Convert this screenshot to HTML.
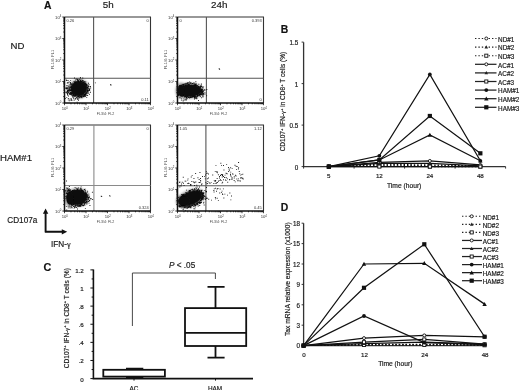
<!DOCTYPE html><html><head><meta charset="utf-8"><style>html,body{margin:0;padding:0;background:#fff;width:520px;height:390px;overflow:hidden}svg{display:block;filter:grayscale(1)}text{stroke:#1a1a1a;stroke-width:.18px}text.t{stroke:none}</style></head><body><svg width="520" height="390" viewBox="0 0 520 390"><defs><filter id="bl1" x="-20%" y="-20%" width="140%" height="140%"><feGaussianBlur stdDeviation="0.5"/></filter><filter id="bl2" x="-30%" y="-30%" width="160%" height="160%"><feGaussianBlur stdDeviation="1.3"/></filter></defs><g><rect width="520" height="390" fill="#fff"/><text x="44" y="8.6" font-size="10.3" font-weight="bold" fill="#111" font-family="Liberation Sans, sans-serif">A</text><text x="108.3" y="8.4" font-size="9.8" text-anchor="middle" fill="#222" font-family="Liberation Sans, sans-serif">5h</text><text x="219.3" y="8.4" font-size="9.8" text-anchor="middle" fill="#222" font-family="Liberation Sans, sans-serif">24h</text><text x="10.6" y="49.3" font-size="9.6" fill="#222" font-family="Liberation Sans, sans-serif">ND</text><text x="0" y="161.3" font-size="9.6" fill="#222" font-family="Liberation Sans, sans-serif">HAM#1</text><text x="7.3" y="223" font-size="8.2" fill="#222" font-family="Liberation Sans, sans-serif">CD107a</text><text x="51" y="247" font-size="8.2" fill="#222" font-family="Liberation Sans, sans-serif">IFN-<tspan font-family="Liberation Serif, serif">γ</tspan></text><path d="M45.6,232V213M44.8,231.8H63" stroke="#111" stroke-width="1.9" fill="none"/><path d="M45.6,208.4L42.9,213.8H48.3Z M67.2,231.8L61.8,229.2V234.4Z" fill="#111"/><path d="M64.5,17H150.5V103" fill="none" stroke="#333" stroke-width="1.1"/><line x1="93.6" y1="17" x2="93.6" y2="103" stroke="#555" stroke-width="1.1"/><line x1="64.5" y1="78.3" x2="150.5" y2="78.3" stroke="#555" stroke-width="1.1"/><path d="M71.4,84.7h.9v.9h-.9zM78.3,80.7h.9v.9h-.9zM78.1,99.8h.9v.9h-.9zM90.0,86.1h.9v.9h-.9zM79.4,81.3h.9v.9h-.9zM78.3,96.1h.9v.9h-.9zM80.9,96.7h.9v.9h-.9zM71.3,90.5h.9v.9h-.9zM88.6,85.9h.9v.9h-.9zM71.6,85.0h.9v.9h-.9zM85.3,94.0h.9v.9h-.9zM86.7,88.6h.9v.9h-.9zM70.5,90.2h.9v.9h-.9zM84.9,83.2h.9v.9h-.9zM70.0,90.3h.9v.9h-.9zM80.9,95.4h.9v.9h-.9zM84.0,95.3h.9v.9h-.9zM83.9,95.9h.9v.9h-.9zM87.6,86.6h.9v.9h-.9zM85.0,93.4h.9v.9h-.9zM84.1,81.2h.9v.9h-.9zM82.6,80.0h.9v.9h-.9zM76.8,81.9h.9v.9h-.9zM71.1,88.9h.9v.9h-.9zM83.6,81.2h.9v.9h-.9zM71.5,86.3h.9v.9h-.9zM74.5,94.6h.9v.9h-.9zM85.7,93.6h.9v.9h-.9zM73.0,97.6h.9v.9h-.9zM70.2,86.3h.9v.9h-.9zM71.9,84.2h.9v.9h-.9zM87.2,94.9h.9v.9h-.9zM81.6,96.3h.9v.9h-.9zM87.4,91.3h.9v.9h-.9zM83.0,96.0h.9v.9h-.9zM78.3,97.4h.9v.9h-.9zM73.0,83.5h.9v.9h-.9zM82.4,80.1h.9v.9h-.9zM84.7,82.5h.9v.9h-.9zM85.2,93.0h.9v.9h-.9zM85.6,83.4h.9v.9h-.9zM84.8,95.2h.9v.9h-.9zM69.9,82.7h.9v.9h-.9zM74.3,95.9h.9v.9h-.9zM81.3,95.3h.9v.9h-.9zM83.3,82.1h.9v.9h-.9zM71.2,88.6h.9v.9h-.9zM77.3,81.9h.9v.9h-.9zM75.1,95.0h.9v.9h-.9zM87.3,92.9h.9v.9h-.9zM72.8,83.6h.9v.9h-.9zM70.0,89.8h.9v.9h-.9zM75.4,98.0h.9v.9h-.9zM74.1,83.0h.9v.9h-.9zM70.0,90.1h.9v.9h-.9zM84.3,83.3h.9v.9h-.9zM85.0,84.2h.9v.9h-.9zM77.0,80.4h.9v.9h-.9zM85.9,93.0h.9v.9h-.9zM80.3,81.7h.9v.9h-.9zM71.3,84.5h.9v.9h-.9zM65.8,91.2h.9v.9h-.9zM82.0,95.3h.9v.9h-.9zM75.4,95.3h.9v.9h-.9zM75.0,98.6h.9v.9h-.9zM70.8,87.3h.9v.9h-.9zM71.5,93.7h.9v.9h-.9zM69.9,90.3h.9v.9h-.9zM85.1,81.4h.9v.9h-.9zM70.9,87.0h.9v.9h-.9zM83.5,81.9h.9v.9h-.9zM84.8,83.7h.9v.9h-.9zM72.8,93.6h.9v.9h-.9zM86.0,84.5h.9v.9h-.9zM80.0,80.6h.9v.9h-.9zM74.8,80.7h.9v.9h-.9zM87.4,84.9h.9v.9h-.9zM73.9,94.6h.9v.9h-.9zM86.7,88.9h.9v.9h-.9zM85.0,83.0h.9v.9h-.9zM87.3,92.2h.9v.9h-.9zM70.8,92.0h.9v.9h-.9zM73.3,83.9h.9v.9h-.9zM85.8,85.1h.9v.9h-.9zM71.9,84.8h.9v.9h-.9zM83.6,94.1h.9v.9h-.9zM72.1,95.5h.9v.9h-.9zM80.4,81.1h.9v.9h-.9zM88.3,92.7h.9v.9h-.9zM80.1,76.9h.9v.9h-.9zM68.6,90.0h.9v.9h-.9zM86.6,88.8h.9v.9h-.9zM86.6,87.6h.9v.9h-.9zM80.9,95.5h.9v.9h-.9zM71.5,87.7h.9v.9h-.9zM71.6,86.7h.9v.9h-.9zM74.1,83.5h.9v.9h-.9zM77.4,99.2h.9v.9h-.9zM70.9,89.0h.9v.9h-.9zM72.8,83.6h.9v.9h-.9zM84.6,95.9h.9v.9h-.9zM88.7,88.4h.9v.9h-.9zM86.8,84.5h.9v.9h-.9zM89.2,89.0h.9v.9h-.9zM77.5,96.2h.9v.9h-.9zM71.5,84.7h.9v.9h-.9zM76.7,101.8h.9v.9h-.9zM79.4,81.4h.9v.9h-.9zM77.7,80.0h.9v.9h-.9zM84.2,95.9h.9v.9h-.9zM72.0,84.2h.9v.9h-.9zM86.4,91.0h.9v.9h-.9zM71.9,84.6h.9v.9h-.9zM74.9,80.4h.9v.9h-.9zM83.8,82.7h.9v.9h-.9zM86.9,87.8h.9v.9h-.9zM83.3,96.4h.9v.9h-.9zM88.0,82.8h.9v.9h-.9zM81.0,96.8h.9v.9h-.9zM73.4,84.1h.9v.9h-.9zM74.7,94.9h.9v.9h-.9zM72.1,82.7h.9v.9h-.9zM74.8,95.2h.9v.9h-.9zM70.7,89.0h.9v.9h-.9zM81.1,95.9h.9v.9h-.9zM72.3,92.4h.9v.9h-.9zM76.5,78.6h.9v.9h-.9zM78.5,95.8h.9v.9h-.9zM77.8,81.6h.9v.9h-.9zM85.4,92.5h.9v.9h-.9zM86.9,90.4h.9v.9h-.9zM79.9,96.0h.9v.9h-.9zM81.4,80.9h.9v.9h-.9zM84.1,94.8h.9v.9h-.9zM83.5,82.4h.9v.9h-.9zM75.3,82.4h.9v.9h-.9zM74.0,77.5h.9v.9h-.9zM81.0,81.0h.9v.9h-.9zM75.2,95.1h.9v.9h-.9zM68.5,90.3h.9v.9h-.9zM84.4,95.6h.9v.9h-.9zM68.6,89.3h.9v.9h-.9zM83.8,83.0h.9v.9h-.9zM86.3,97.2h.9v.9h-.9zM68.7,81.6h.9v.9h-.9zM87.7,86.2h.9v.9h-.9zM82.3,80.1h.9v.9h-.9zM73.3,95.6h.9v.9h-.9zM84.2,94.7h.9v.9h-.9zM77.0,79.1h.9v.9h-.9zM72.0,93.3h.9v.9h-.9zM73.4,93.7h.9v.9h-.9zM81.9,81.3h.9v.9h-.9zM74.3,94.9h.9v.9h-.9zM75.6,81.8h.9v.9h-.9zM82.3,77.5h.9v.9h-.9zM74.4,94.8h.9v.9h-.9zM77.3,80.1h.9v.9h-.9zM75.4,82.3h.9v.9h-.9zM84.9,83.5h.9v.9h-.9zM90.0,91.8h.9v.9h-.9zM86.1,91.9h.9v.9h-.9zM70.7,87.2h.9v.9h-.9zM77.1,81.4h.9v.9h-.9zM84.5,83.4h.9v.9h-.9zM78.1,81.5h.9v.9h-.9zM72.0,91.8h.9v.9h-.9zM77.4,97.8h.9v.9h-.9zM75.7,82.1h.9v.9h-.9zM88.8,89.4h.9v.9h-.9zM81.5,97.3h.9v.9h-.9zM82.1,95.7h.9v.9h-.9zM88.6,88.0h.9v.9h-.9zM85.6,92.0h.9v.9h-.9zM82.7,81.5h.9v.9h-.9zM85.1,95.8h.9v.9h-.9zM80.2,96.7h.9v.9h-.9zM79.3,97.3h.9v.9h-.9zM71.0,84.3h.9v.9h-.9zM72.3,96.7h.9v.9h-.9zM83.0,82.3h.9v.9h-.9zM85.4,92.6h.9v.9h-.9zM94.9,82.4h.9v.9h-.9zM86.0,85.5h.9v.9h-.9zM68.6,91.1h.9v.9h-.9zM84.5,83.5h.9v.9h-.9zM77.6,96.1h.9v.9h-.9zM86.9,89.7h.9v.9h-.9zM70.8,92.8h.9v.9h-.9zM77.3,79.4h.9v.9h-.9zM77.6,81.2h.9v.9h-.9zM82.0,81.7h.9v.9h-.9zM76.3,81.4h.9v.9h-.9zM84.8,94.2h.9v.9h-.9zM84.8,94.0h.9v.9h-.9zM71.3,86.3h.9v.9h-.9zM85.7,83.8h.9v.9h-.9zM71.3,90.1h.9v.9h-.9zM88.6,83.9h.9v.9h-.9zM79.7,81.6h.9v.9h-.9zM79.8,80.1h.9v.9h-.9zM70.6,83.0h.9v.9h-.9zM72.1,93.9h.9v.9h-.9zM73.7,81.8h.9v.9h-.9zM76.3,97.0h.9v.9h-.9zM83.4,96.0h.9v.9h-.9zM78.0,81.3h.9v.9h-.9zM76.2,82.3h.9v.9h-.9zM86.4,84.7h.9v.9h-.9zM73.2,94.6h.9v.9h-.9zM70.5,89.8h.9v.9h-.9zM87.7,90.8h.9v.9h-.9zM68.4,87.9h.9v.9h-.9zM87.9,88.4h.9v.9h-.9zM71.3,84.3h.9v.9h-.9zM86.8,90.0h.9v.9h-.9zM82.3,95.5h.9v.9h-.9zM83.2,82.4h.9v.9h-.9zM69.9,94.0h.9v.9h-.9zM74.7,81.8h.9v.9h-.9zM80.2,79.6h.9v.9h-.9zM70.2,84.5h.9v.9h-.9zM73.7,83.0h.9v.9h-.9zM72.4,95.6h.9v.9h-.9zM73.2,95.6h.9v.9h-.9zM74.4,95.5h.9v.9h-.9zM77.4,81.6h.9v.9h-.9zM76.2,96.9h.9v.9h-.9zM71.4,99.7h.9v.9h-.9zM78.8,79.0h.9v.9h-.9zM75.5,82.6h.9v.9h-.9zM74.3,94.8h.9v.9h-.9zM67.5,86.4h.9v.9h-.9zM73.1,83.4h.9v.9h-.9zM68.7,86.3h.9v.9h-.9zM84.1,94.6h.9v.9h-.9zM78.8,96.2h.9v.9h-.9zM86.7,86.6h.9v.9h-.9zM72.0,93.2h.9v.9h-.9zM70.1,86.8h.9v.9h-.9zM83.9,82.3h.9v.9h-.9zM80.2,96.6h.9v.9h-.9zM67.0,92.4h.9v.9h-.9zM88.2,90.2h.9v.9h-.9zM77.4,98.0h.9v.9h-.9zM83.4,94.9h.9v.9h-.9zM81.5,79.5h.9v.9h-.9zM69.6,92.8h.9v.9h-.9zM69.4,94.0h.9v.9h-.9zM70.2,88.7h.9v.9h-.9zM77.3,97.7h.9v.9h-.9zM78.1,81.6h.9v.9h-.9zM76.2,81.7h.9v.9h-.9zM72.6,92.9h.9v.9h-.9zM73.8,82.8h.9v.9h-.9zM70.7,83.1h.9v.9h-.9zM72.4,84.6h.9v.9h-.9zM69.7,92.6h.9v.9h-.9zM72.4,84.9h.9v.9h-.9zM85.9,85.1h.9v.9h-.9zM78.1,96.1h.9v.9h-.9zM89.2,90.0h.9v.9h-.9zM78.0,79.7h.9v.9h-.9zM83.2,94.5h.9v.9h-.9zM77.3,96.3h.9v.9h-.9zM73.0,83.9h.9v.9h-.9zM77.8,80.4h.9v.9h-.9zM76.3,95.7h.9v.9h-.9zM71.0,94.5h.9v.9h-.9zM86.0,93.3h.9v.9h-.9zM72.7,84.7h.9v.9h-.9zM85.4,92.7h.9v.9h-.9zM79.3,97.4h.9v.9h-.9zM86.7,87.8h.9v.9h-.9zM85.3,94.4h.9v.9h-.9zM87.5,87.2h.9v.9h-.9zM84.7,93.7h.9v.9h-.9zM79.2,81.4h.9v.9h-.9zM71.8,85.4h.9v.9h-.9zM72.2,94.9h.9v.9h-.9zM86.5,95.1h.9v.9h-.9zM83.9,82.7h.9v.9h-.9zM88.9,88.9h.9v.9h-.9zM70.8,85.9h.9v.9h-.9zM83.1,96.0h.9v.9h-.9zM83.5,82.6h.9v.9h-.9zM77.7,95.7h.9v.9h-.9zM81.3,80.7h.9v.9h-.9zM88.0,85.7h.9v.9h-.9zM73.4,83.5h.9v.9h-.9zM69.5,87.3h.9v.9h-.9zM71.6,85.8h.9v.9h-.9zM71.5,90.1h.9v.9h-.9zM75.8,81.8h.9v.9h-.9zM73.0,94.0h.9v.9h-.9zM86.6,90.2h.9v.9h-.9zM84.3,94.9h.9v.9h-.9zM72.4,92.9h.9v.9h-.9zM85.3,81.4h.9v.9h-.9zM82.1,81.9h.9v.9h-.9zM87.4,86.6h.9v.9h-.9zM81.1,95.6h.9v.9h-.9zM79.8,77.7h.9v.9h-.9zM82.9,95.5h.9v.9h-.9zM86.2,83.7h.9v.9h-.9zM74.9,82.6h.9v.9h-.9zM80.3,81.5h.9v.9h-.9zM71.5,90.0h.9v.9h-.9zM70.9,88.5h.9v.9h-.9zM87.3,90.7h.9v.9h-.9zM77.9,81.7h.9v.9h-.9zM77.3,98.8h.9v.9h-.9zM70.5,93.6h.9v.9h-.9zM78.8,96.3h.9v.9h-.9zM70.4,83.5h.9v.9h-.9zM74.7,95.1h.9v.9h-.9zM73.6,81.0h.9v.9h-.9zM90.2,87.5h.9v.9h-.9zM75.4,82.2h.9v.9h-.9zM75.9,81.3h.9v.9h-.9zM71.3,92.3h.9v.9h-.9zM71.6,93.3h.9v.9h-.9zM78.1,96.1h.9v.9h-.9zM82.5,95.6h.9v.9h-.9zM84.3,94.0h.9v.9h-.9zM71.8,92.3h.9v.9h-.9zM75.5,78.8h.9v.9h-.9zM79.8,96.2h.9v.9h-.9zM71.2,90.5h.9v.9h-.9zM89.0,93.9h.9v.9h-.9zM70.6,92.3h.9v.9h-.9zM87.3,89.7h.9v.9h-.9zM83.2,81.2h.9v.9h-.9zM87.1,86.8h.9v.9h-.9zM74.6,96.2h.9v.9h-.9zM87.4,90.1h.9v.9h-.9zM80.3,80.9h.9v.9h-.9zM69.8,94.1h.9v.9h-.9zM68.7,86.2h.9v.9h-.9zM67.2,91.1h.9v.9h-.9zM68.6,88.3h.9v.9h-.9zM68.4,85.5h.9v.9h-.9zM66.8,84.9h.9v.9h-.9zM69.5,89.9h.9v.9h-.9zM66.2,88.2h.9v.9h-.9zM67.1,93.5h.9v.9h-.9zM69.2,89.4h.9v.9h-.9zM68.8,100.3h.9v.9h-.9zM67.1,88.2h.9v.9h-.9zM69.7,92.5h.9v.9h-.9zM68.7,87.5h.9v.9h-.9zM71.0,98.5h.9v.9h-.9zM68.5,93.4h.9v.9h-.9zM67.2,92.2h.9v.9h-.9zM68.7,88.3h.9v.9h-.9zM66.2,88.3h.9v.9h-.9zM66.4,88.3h.9v.9h-.9zM68.0,95.6h.9v.9h-.9zM71.1,90.1h.9v.9h-.9zM65.3,87.5h.9v.9h-.9zM67.6,80.0h.9v.9h-.9zM68.1,82.4h.9v.9h-.9zM68.0,89.5h.9v.9h-.9zM66.9,89.6h.9v.9h-.9zM66.5,86.9h.9v.9h-.9zM70.8,99.9h.9v.9h-.9zM69.9,93.5h.9v.9h-.9zM66.3,97.2h.9v.9h-.9zM67.4,89.7h.9v.9h-.9zM67.0,90.5h.9v.9h-.9zM66.7,89.6h.9v.9h-.9zM65.5,88.1h.9v.9h-.9zM71.6,89.7h.9v.9h-.9zM67.1,92.7h.9v.9h-.9zM68.8,84.4h.9v.9h-.9zM67.1,94.6h.9v.9h-.9zM68.0,90.6h.9v.9h-.9zM70.3,86.6h.9v.9h-.9zM67.6,87.4h.9v.9h-.9zM70.2,80.2h.9v.9h-.9zM66.3,87.4h.9v.9h-.9zM68.7,93.0h.9v.9h-.9zM70.0,82.1h.9v.9h-.9zM68.9,88.5h.9v.9h-.9zM66.3,92.7h.9v.9h-.9zM65.8,79.6h.9v.9h-.9zM66.8,82.5h.9v.9h-.9zM66.3,91.9h.9v.9h-.9zM68.1,97.9h.9v.9h-.9zM67.1,82.3h.9v.9h-.9zM66.1,85.4h.9v.9h-.9zM65.3,92.2h.9v.9h-.9zM66.3,80.1h.9v.9h-.9zM68.8,89.4h.9v.9h-.9zM68.1,90.5h.9v.9h-.9zM68.6,90.2h.9v.9h-.9zM69.7,92.1h.9v.9h-.9zM68.2,92.0h.9v.9h-.9zM67.0,91.0h.9v.9h-.9zM65.1,98.2h.9v.9h-.9zM110.0,84.3h.9v.9h-.9zM110.6,84.6h.9v.9h-.9z" fill="#111"/><ellipse cx="79.0" cy="88.7" rx="10.399999999999999" ry="9.7" transform="rotate(-15 79.0 88.7)" fill="#0d0d0d" fill-opacity=".35" filter="url(#bl2)"/><ellipse cx="79.0" cy="88.7" rx="8.2" ry="7.5" transform="rotate(-15 79.0 88.7)" fill="#0d0d0d" filter="url(#bl1)"/><path d="M64.5,17V103H150.5" fill="none" stroke="#111" stroke-width="1.5"/><path d="M62.3,103.00h2.2M64.50,103v2.2M63.2,96.53h1.3M70.97,103v1.3M63.2,92.74h1.3M74.76,103v1.3M63.2,90.06h1.3M77.44,103v1.3M63.2,87.97h1.3M79.53,103v1.3M63.2,86.27h1.3M81.23,103v1.3M63.2,84.83h1.3M82.67,103v1.3M63.2,83.58h1.3M83.92,103v1.3M63.2,82.48h1.3M85.02,103v1.3M62.3,81.50h2.2M86.00,103v2.2M63.2,75.03h1.3M92.47,103v1.3M63.2,71.24h1.3M96.26,103v1.3M63.2,68.56h1.3M98.94,103v1.3M63.2,66.47h1.3M101.03,103v1.3M63.2,64.77h1.3M102.73,103v1.3M63.2,63.33h1.3M104.17,103v1.3M63.2,62.08h1.3M105.42,103v1.3M63.2,60.98h1.3M106.52,103v1.3M62.3,60.00h2.2M107.50,103v2.2M63.2,53.53h1.3M113.97,103v1.3M63.2,49.74h1.3M117.76,103v1.3M63.2,47.06h1.3M120.44,103v1.3M63.2,44.97h1.3M122.53,103v1.3M63.2,43.27h1.3M124.23,103v1.3M63.2,41.83h1.3M125.67,103v1.3M63.2,40.58h1.3M126.92,103v1.3M63.2,39.48h1.3M128.02,103v1.3M62.3,38.50h2.2M129.00,103v2.2M63.2,32.03h1.3M135.47,103v1.3M63.2,28.24h1.3M139.26,103v1.3M63.2,25.56h1.3M141.94,103v1.3M63.2,23.47h1.3M144.03,103v1.3M63.2,21.77h1.3M145.73,103v1.3M63.2,20.33h1.3M147.17,103v1.3M63.2,19.08h1.3M148.42,103v1.3M63.2,17.98h1.3M149.52,103v1.3M62.3,17h2.2M150.5,103v2.2" stroke="#111" stroke-width="0.8"/><text class="t" x="61.3" y="104.6" font-size="4.2" text-anchor="end" fill="#333" font-family="Liberation Sans, sans-serif">10<tspan font-size="2.8" dy="-1.6">0</tspan></text><text class="t" x="64.8" y="110.2" font-size="4.2" text-anchor="middle" fill="#333" font-family="Liberation Sans, sans-serif">10<tspan font-size="2.8" dy="-1.6">0</tspan></text><text class="t" x="61.3" y="83.1" font-size="4.2" text-anchor="end" fill="#333" font-family="Liberation Sans, sans-serif">10<tspan font-size="2.8" dy="-1.6">1</tspan></text><text class="t" x="86.3" y="110.2" font-size="4.2" text-anchor="middle" fill="#333" font-family="Liberation Sans, sans-serif">10<tspan font-size="2.8" dy="-1.6">1</tspan></text><text class="t" x="61.3" y="61.6" font-size="4.2" text-anchor="end" fill="#333" font-family="Liberation Sans, sans-serif">10<tspan font-size="2.8" dy="-1.6">2</tspan></text><text class="t" x="107.8" y="110.2" font-size="4.2" text-anchor="middle" fill="#333" font-family="Liberation Sans, sans-serif">10<tspan font-size="2.8" dy="-1.6">2</tspan></text><text class="t" x="61.3" y="40.1" font-size="4.2" text-anchor="end" fill="#333" font-family="Liberation Sans, sans-serif">10<tspan font-size="2.8" dy="-1.6">3</tspan></text><text class="t" x="129.3" y="110.2" font-size="4.2" text-anchor="middle" fill="#333" font-family="Liberation Sans, sans-serif">10<tspan font-size="2.8" dy="-1.6">3</tspan></text><text class="t" x="61.3" y="18.6" font-size="4.2" text-anchor="end" fill="#333" font-family="Liberation Sans, sans-serif">10<tspan font-size="2.8" dy="-1.6">4</tspan></text><text class="t" x="150.8" y="110.2" font-size="4.2" text-anchor="middle" fill="#333" font-family="Liberation Sans, sans-serif">10<tspan font-size="2.8" dy="-1.6">4</tspan></text><text class="t" x="105.5" y="114.8" font-size="3.6" text-anchor="middle" fill="#444" font-family="Liberation Sans, sans-serif">FL3/4: FL2</text><text class="t" transform="translate(53.9,59.5) rotate(-90)" font-size="4" text-anchor="middle" fill="#444" font-family="Liberation Sans, sans-serif">FL1/4: FL1</text><text class="t" x="66.5" y="22" font-size="4" fill="#333" font-family="Liberation Sans, sans-serif">0.26</text><text class="t" x="148.7" y="22" font-size="4" text-anchor="end" fill="#333" font-family="Liberation Sans, sans-serif">0</text><text class="t" x="67.5" y="100.5" font-size="4" fill="#333" font-family="Liberation Sans, sans-serif">99.5</text><text class="t" x="148.7" y="100.5" font-size="4" text-anchor="end" fill="#333" font-family="Liberation Sans, sans-serif">0.11</text><path d="M177.5,17H263.5V103" fill="none" stroke="#333" stroke-width="1.1"/><line x1="206.4" y1="17" x2="206.4" y2="103" stroke="#555" stroke-width="1.1"/><line x1="177.5" y1="78.2" x2="263.5" y2="78.2" stroke="#555" stroke-width="1.1"/><path d="M183.0,86.5h.9v.9h-.9zM202.1,95.6h.9v.9h-.9zM190.7,85.0h.9v.9h-.9zM183.2,86.7h.9v.9h-.9zM178.1,95.1h.9v.9h-.9zM190.0,96.3h.9v.9h-.9zM180.2,86.6h.9v.9h-.9zM196.7,95.6h.9v.9h-.9zM206.2,95.3h.9v.9h-.9zM193.5,96.3h.9v.9h-.9zM194.6,97.9h.9v.9h-.9zM187.6,96.5h.9v.9h-.9zM203.0,90.4h.9v.9h-.9zM201.6,92.4h.9v.9h-.9zM181.1,87.3h.9v.9h-.9zM184.7,95.5h.9v.9h-.9zM200.8,90.9h.9v.9h-.9zM180.1,89.1h.9v.9h-.9zM194.0,97.1h.9v.9h-.9zM199.7,93.1h.9v.9h-.9zM202.4,87.7h.9v.9h-.9zM193.6,96.8h.9v.9h-.9zM201.6,91.1h.9v.9h-.9zM201.9,89.3h.9v.9h-.9zM182.3,86.2h.9v.9h-.9zM185.8,95.7h.9v.9h-.9zM192.2,96.1h.9v.9h-.9zM197.9,94.8h.9v.9h-.9zM198.9,94.1h.9v.9h-.9zM200.0,87.3h.9v.9h-.9zM184.8,95.6h.9v.9h-.9zM193.8,84.6h.9v.9h-.9zM199.0,94.1h.9v.9h-.9zM179.8,90.2h.9v.9h-.9zM198.5,87.3h.9v.9h-.9zM200.1,96.2h.9v.9h-.9zM195.4,84.3h.9v.9h-.9zM179.4,92.5h.9v.9h-.9zM201.5,92.1h.9v.9h-.9zM201.2,90.0h.9v.9h-.9zM197.5,86.6h.9v.9h-.9zM185.5,96.7h.9v.9h-.9zM201.2,91.1h.9v.9h-.9zM193.9,96.6h.9v.9h-.9zM198.9,87.4h.9v.9h-.9zM188.1,96.4h.9v.9h-.9zM179.7,90.7h.9v.9h-.9zM203.0,92.8h.9v.9h-.9zM180.9,88.2h.9v.9h-.9zM179.3,90.4h.9v.9h-.9zM200.8,89.0h.9v.9h-.9zM197.2,95.9h.9v.9h-.9zM195.9,85.8h.9v.9h-.9zM188.4,83.4h.9v.9h-.9zM194.1,98.5h.9v.9h-.9zM202.7,91.4h.9v.9h-.9zM193.9,96.0h.9v.9h-.9zM204.6,89.6h.9v.9h-.9zM201.4,93.0h.9v.9h-.9zM184.6,86.2h.9v.9h-.9zM190.0,96.3h.9v.9h-.9zM178.8,89.3h.9v.9h-.9zM178.9,90.7h.9v.9h-.9zM183.8,85.8h.9v.9h-.9zM203.2,86.4h.9v.9h-.9zM178.3,91.1h.9v.9h-.9zM197.8,86.1h.9v.9h-.9zM194.0,85.1h.9v.9h-.9zM187.8,84.4h.9v.9h-.9zM178.3,86.2h.9v.9h-.9zM202.7,93.1h.9v.9h-.9zM179.0,89.3h.9v.9h-.9zM184.0,95.2h.9v.9h-.9zM189.5,97.2h.9v.9h-.9zM199.2,94.1h.9v.9h-.9zM202.2,89.3h.9v.9h-.9zM201.1,86.1h.9v.9h-.9zM196.5,97.5h.9v.9h-.9zM194.4,97.8h.9v.9h-.9zM198.5,86.7h.9v.9h-.9zM179.6,90.1h.9v.9h-.9zM178.7,90.1h.9v.9h-.9zM198.8,95.3h.9v.9h-.9zM194.6,84.0h.9v.9h-.9zM196.9,95.1h.9v.9h-.9zM189.2,96.5h.9v.9h-.9zM195.4,97.3h.9v.9h-.9zM179.0,93.9h.9v.9h-.9zM193.2,96.1h.9v.9h-.9zM186.6,98.0h.9v.9h-.9zM190.4,96.4h.9v.9h-.9zM182.7,100.6h.9v.9h-.9zM180.6,94.7h.9v.9h-.9zM199.6,86.1h.9v.9h-.9zM199.2,93.9h.9v.9h-.9zM200.9,90.5h.9v.9h-.9zM184.8,99.2h.9v.9h-.9zM201.5,91.4h.9v.9h-.9zM192.7,96.2h.9v.9h-.9zM178.1,91.9h.9v.9h-.9zM185.8,95.7h.9v.9h-.9zM195.8,83.7h.9v.9h-.9zM179.7,88.6h.9v.9h-.9zM179.2,89.3h.9v.9h-.9zM178.0,93.8h.9v.9h-.9zM181.3,94.6h.9v.9h-.9zM198.3,94.4h.9v.9h-.9zM191.5,84.3h.9v.9h-.9zM189.7,96.7h.9v.9h-.9zM180.2,93.8h.9v.9h-.9zM195.8,96.5h.9v.9h-.9zM187.8,84.7h.9v.9h-.9zM198.7,86.4h.9v.9h-.9zM178.6,92.1h.9v.9h-.9zM200.4,87.9h.9v.9h-.9zM186.4,85.4h.9v.9h-.9zM200.4,88.5h.9v.9h-.9zM204.5,92.2h.9v.9h-.9zM201.7,93.7h.9v.9h-.9zM201.0,92.6h.9v.9h-.9zM194.9,96.4h.9v.9h-.9zM186.4,96.3h.9v.9h-.9zM195.7,85.0h.9v.9h-.9zM184.0,96.7h.9v.9h-.9zM202.3,91.0h.9v.9h-.9zM200.6,89.5h.9v.9h-.9zM198.0,86.5h.9v.9h-.9zM187.3,96.1h.9v.9h-.9zM198.5,87.5h.9v.9h-.9zM202.5,96.7h.9v.9h-.9zM180.0,92.5h.9v.9h-.9zM178.3,90.3h.9v.9h-.9zM178.0,88.8h.9v.9h-.9zM196.9,86.5h.9v.9h-.9zM178.3,86.8h.9v.9h-.9zM178.4,92.4h.9v.9h-.9zM203.2,95.5h.9v.9h-.9zM194.0,82.7h.9v.9h-.9zM204.6,93.6h.9v.9h-.9zM193.8,96.1h.9v.9h-.9zM185.1,96.0h.9v.9h-.9zM201.4,91.3h.9v.9h-.9zM182.4,95.5h.9v.9h-.9zM179.4,89.0h.9v.9h-.9zM187.5,96.2h.9v.9h-.9zM181.6,87.7h.9v.9h-.9zM178.3,93.2h.9v.9h-.9zM180.0,87.8h.9v.9h-.9zM201.8,88.9h.9v.9h-.9zM180.6,94.0h.9v.9h-.9zM200.0,86.5h.9v.9h-.9zM187.7,97.1h.9v.9h-.9zM195.6,85.8h.9v.9h-.9zM196.5,86.2h.9v.9h-.9zM179.7,90.5h.9v.9h-.9zM202.1,93.5h.9v.9h-.9zM199.9,85.9h.9v.9h-.9zM198.6,95.3h.9v.9h-.9zM179.2,91.5h.9v.9h-.9zM178.0,90.9h.9v.9h-.9zM180.0,94.2h.9v.9h-.9zM201.8,87.3h.9v.9h-.9zM196.4,95.9h.9v.9h-.9zM200.7,94.1h.9v.9h-.9zM189.2,97.7h.9v.9h-.9zM185.3,96.2h.9v.9h-.9zM200.8,94.0h.9v.9h-.9zM202.3,94.4h.9v.9h-.9zM187.3,96.2h.9v.9h-.9zM201.7,86.2h.9v.9h-.9zM189.8,96.2h.9v.9h-.9zM182.1,94.3h.9v.9h-.9zM187.0,85.5h.9v.9h-.9zM198.1,86.1h.9v.9h-.9zM183.2,95.2h.9v.9h-.9zM188.7,85.3h.9v.9h-.9zM182.2,94.5h.9v.9h-.9zM200.8,88.9h.9v.9h-.9zM202.1,90.8h.9v.9h-.9zM181.6,95.9h.9v.9h-.9zM199.0,95.4h.9v.9h-.9zM194.3,95.8h.9v.9h-.9zM200.2,86.6h.9v.9h-.9zM184.9,85.7h.9v.9h-.9zM200.5,92.3h.9v.9h-.9zM179.6,90.8h.9v.9h-.9zM181.7,84.2h.9v.9h-.9zM200.4,92.4h.9v.9h-.9zM199.4,87.3h.9v.9h-.9zM179.6,89.6h.9v.9h-.9zM200.2,88.7h.9v.9h-.9zM180.5,94.0h.9v.9h-.9zM187.0,82.6h.9v.9h-.9zM189.2,84.8h.9v.9h-.9zM202.8,94.1h.9v.9h-.9zM200.6,89.9h.9v.9h-.9zM191.9,85.1h.9v.9h-.9zM179.2,92.2h.9v.9h-.9zM179.8,86.1h.9v.9h-.9zM185.7,85.2h.9v.9h-.9zM187.4,84.3h.9v.9h-.9zM179.3,91.0h.9v.9h-.9zM190.7,96.3h.9v.9h-.9zM179.7,92.9h.9v.9h-.9zM198.4,83.8h.9v.9h-.9zM183.9,95.6h.9v.9h-.9zM198.8,87.7h.9v.9h-.9zM179.3,92.9h.9v.9h-.9zM201.1,89.4h.9v.9h-.9zM206.4,89.0h.9v.9h-.9zM193.9,84.4h.9v.9h-.9zM198.0,86.6h.9v.9h-.9zM187.0,84.7h.9v.9h-.9zM179.2,90.5h.9v.9h-.9zM193.4,96.0h.9v.9h-.9zM193.1,85.1h.9v.9h-.9zM184.6,85.9h.9v.9h-.9zM184.2,86.1h.9v.9h-.9zM183.0,84.8h.9v.9h-.9zM192.0,96.6h.9v.9h-.9zM178.5,92.2h.9v.9h-.9zM183.0,95.1h.9v.9h-.9zM202.6,87.4h.9v.9h-.9zM200.8,92.8h.9v.9h-.9zM182.3,94.6h.9v.9h-.9zM186.1,85.1h.9v.9h-.9zM184.5,84.7h.9v.9h-.9zM185.3,85.7h.9v.9h-.9zM180.6,86.8h.9v.9h-.9zM180.5,88.7h.9v.9h-.9zM178.2,90.8h.9v.9h-.9zM182.1,94.4h.9v.9h-.9zM182.7,85.0h.9v.9h-.9zM183.4,95.3h.9v.9h-.9zM182.5,87.1h.9v.9h-.9zM198.5,87.3h.9v.9h-.9zM183.1,95.1h.9v.9h-.9zM198.2,94.5h.9v.9h-.9zM188.2,97.1h.9v.9h-.9zM203.4,90.2h.9v.9h-.9zM193.0,85.3h.9v.9h-.9zM179.1,87.7h.9v.9h-.9zM186.2,99.2h.9v.9h-.9zM190.0,85.3h.9v.9h-.9zM186.4,97.9h.9v.9h-.9zM203.0,90.5h.9v.9h-.9zM200.4,85.3h.9v.9h-.9zM189.5,84.8h.9v.9h-.9zM192.1,96.3h.9v.9h-.9zM180.9,86.1h.9v.9h-.9zM186.7,96.2h.9v.9h-.9zM202.2,91.7h.9v.9h-.9zM191.3,96.3h.9v.9h-.9zM183.3,84.1h.9v.9h-.9zM194.5,96.2h.9v.9h-.9zM189.9,85.2h.9v.9h-.9zM201.0,94.3h.9v.9h-.9zM191.4,97.2h.9v.9h-.9zM195.0,85.3h.9v.9h-.9zM197.3,85.0h.9v.9h-.9zM196.3,98.3h.9v.9h-.9zM188.4,84.0h.9v.9h-.9zM185.3,83.5h.9v.9h-.9zM186.3,97.2h.9v.9h-.9zM178.8,90.2h.9v.9h-.9zM185.2,95.7h.9v.9h-.9zM179.3,91.1h.9v.9h-.9zM178.2,94.1h.9v.9h-.9zM185.2,85.2h.9v.9h-.9zM201.4,90.2h.9v.9h-.9zM179.5,90.5h.9v.9h-.9zM180.7,94.7h.9v.9h-.9zM199.7,93.7h.9v.9h-.9zM200.8,84.7h.9v.9h-.9zM193.4,85.4h.9v.9h-.9zM183.5,95.3h.9v.9h-.9zM194.2,96.5h.9v.9h-.9zM185.6,97.4h.9v.9h-.9zM184.4,95.8h.9v.9h-.9zM200.6,88.7h.9v.9h-.9zM203.8,89.3h.9v.9h-.9zM183.1,86.0h.9v.9h-.9zM193.9,96.3h.9v.9h-.9zM199.2,94.3h.9v.9h-.9zM179.6,89.5h.9v.9h-.9zM180.2,89.0h.9v.9h-.9zM202.1,92.3h.9v.9h-.9zM184.3,95.7h.9v.9h-.9zM200.1,94.6h.9v.9h-.9zM180.0,92.1h.9v.9h-.9zM187.9,85.4h.9v.9h-.9zM192.5,84.8h.9v.9h-.9zM178.8,89.5h.9v.9h-.9zM184.5,85.0h.9v.9h-.9zM193.4,85.6h.9v.9h-.9zM179.4,91.0h.9v.9h-.9zM198.8,94.1h.9v.9h-.9zM190.3,97.0h.9v.9h-.9zM189.7,82.2h.9v.9h-.9zM186.5,85.1h.9v.9h-.9zM181.5,94.4h.9v.9h-.9zM187.3,96.1h.9v.9h-.9zM191.6,85.4h.9v.9h-.9zM188.3,96.7h.9v.9h-.9zM183.9,84.3h.9v.9h-.9zM188.4,85.0h.9v.9h-.9zM195.0,96.1h.9v.9h-.9zM187.7,97.1h.9v.9h-.9zM202.3,90.5h.9v.9h-.9zM201.2,92.0h.9v.9h-.9zM195.4,83.2h.9v.9h-.9zM181.1,87.6h.9v.9h-.9zM183.2,95.4h.9v.9h-.9zM197.3,86.6h.9v.9h-.9zM194.0,95.8h.9v.9h-.9zM200.9,97.3h.9v.9h-.9zM182.2,86.7h.9v.9h-.9zM181.9,95.6h.9v.9h-.9zM184.4,86.1h.9v.9h-.9zM185.6,85.0h.9v.9h-.9zM195.5,97.5h.9v.9h-.9zM179.3,92.0h.9v.9h-.9zM179.7,89.6h.9v.9h-.9zM191.1,96.2h.9v.9h-.9zM194.1,95.9h.9v.9h-.9zM181.0,93.6h.9v.9h-.9zM179.5,97.3h.9v.9h-.9zM201.3,91.6h.9v.9h-.9zM194.8,84.6h.9v.9h-.9zM179.2,93.1h.9v.9h-.9zM179.1,89.2h.9v.9h-.9zM197.9,85.9h.9v.9h-.9zM185.5,95.8h.9v.9h-.9zM198.3,87.2h.9v.9h-.9zM182.2,84.6h.9v.9h-.9zM193.6,85.2h.9v.9h-.9zM179.4,92.2h.9v.9h-.9zM179.3,91.5h.9v.9h-.9zM191.5,84.5h.9v.9h-.9zM197.3,95.3h.9v.9h-.9zM182.0,94.6h.9v.9h-.9zM201.6,89.1h.9v.9h-.9zM206.3,89.1h.9v.9h-.9zM185.3,85.7h.9v.9h-.9zM182.9,94.7h.9v.9h-.9zM195.8,85.8h.9v.9h-.9zM199.9,93.5h.9v.9h-.9zM185.3,95.9h.9v.9h-.9zM202.1,91.0h.9v.9h-.9zM199.4,87.2h.9v.9h-.9zM180.5,85.6h.9v.9h-.9zM192.1,96.3h.9v.9h-.9zM191.0,84.8h.9v.9h-.9zM196.5,96.0h.9v.9h-.9zM181.0,95.3h.9v.9h-.9zM203.5,93.6h.9v.9h-.9zM178.6,92.8h.9v.9h-.9zM182.0,94.5h.9v.9h-.9zM182.0,94.9h.9v.9h-.9zM179.0,90.9h.9v.9h-.9zM193.3,85.4h.9v.9h-.9zM196.3,84.8h.9v.9h-.9zM190.1,86.6h.9v.9h-.9zM193.4,83.6h.9v.9h-.9zM193.8,84.5h.9v.9h-.9zM185.6,84.1h.9v.9h-.9zM189.2,81.6h.9v.9h-.9zM189.1,83.7h.9v.9h-.9zM187.7,82.0h.9v.9h-.9zM188.2,84.0h.9v.9h-.9zM190.5,82.6h.9v.9h-.9zM193.3,82.5h.9v.9h-.9zM188.8,85.6h.9v.9h-.9zM186.4,83.4h.9v.9h-.9zM195.5,83.5h.9v.9h-.9zM188.5,84.3h.9v.9h-.9zM195.4,81.3h.9v.9h-.9zM185.7,82.8h.9v.9h-.9zM184.4,82.9h.9v.9h-.9zM185.7,84.4h.9v.9h-.9zM185.4,84.2h.9v.9h-.9zM192.1,83.1h.9v.9h-.9zM190.7,86.0h.9v.9h-.9zM191.7,83.2h.9v.9h-.9zM189.7,82.9h.9v.9h-.9zM191.4,85.1h.9v.9h-.9zM185.8,83.7h.9v.9h-.9zM195.7,83.4h.9v.9h-.9zM191.0,82.7h.9v.9h-.9zM185.8,83.4h.9v.9h-.9zM200.9,83.5h.9v.9h-.9zM187.4,83.3h.9v.9h-.9zM189.2,84.8h.9v.9h-.9zM190.9,86.5h.9v.9h-.9zM191.1,85.7h.9v.9h-.9zM191.4,84.7h.9v.9h-.9zM182.8,83.8h.9v.9h-.9zM189.7,83.7h.9v.9h-.9zM179.2,85.1h.9v.9h-.9zM188.1,83.5h.9v.9h-.9zM188.7,83.7h.9v.9h-.9zM218.7,68.3h.9v.9h-.9zM219.2,68.8h.9v.9h-.9zM198.0,100.0h.9v.9h-.9z" fill="#111"/><ellipse cx="190.2" cy="90.8" rx="13.5" ry="8.0" transform="rotate(0 190.2 90.8)" fill="#0d0d0d" fill-opacity=".35" filter="url(#bl2)"/><ellipse cx="181" cy="90.7" rx="5.4" ry="8.100000000000001" transform="rotate(0 181 90.7)" fill="#0d0d0d" fill-opacity=".35" filter="url(#bl2)"/><ellipse cx="190.2" cy="90.8" rx="11.3" ry="5.8" transform="rotate(0 190.2 90.8)" fill="#0d0d0d" filter="url(#bl1)"/><ellipse cx="181" cy="90.7" rx="3.2" ry="5.9" transform="rotate(0 181 90.7)" fill="#0d0d0d" filter="url(#bl1)"/><path d="M177.5,17V103H263.5" fill="none" stroke="#111" stroke-width="1.5"/><path d="M175.3,103.00h2.2M177.50,103v2.2M176.2,96.53h1.3M183.97,103v1.3M176.2,92.74h1.3M187.76,103v1.3M176.2,90.06h1.3M190.44,103v1.3M176.2,87.97h1.3M192.53,103v1.3M176.2,86.27h1.3M194.23,103v1.3M176.2,84.83h1.3M195.67,103v1.3M176.2,83.58h1.3M196.92,103v1.3M176.2,82.48h1.3M198.02,103v1.3M175.3,81.50h2.2M199.00,103v2.2M176.2,75.03h1.3M205.47,103v1.3M176.2,71.24h1.3M209.26,103v1.3M176.2,68.56h1.3M211.94,103v1.3M176.2,66.47h1.3M214.03,103v1.3M176.2,64.77h1.3M215.73,103v1.3M176.2,63.33h1.3M217.17,103v1.3M176.2,62.08h1.3M218.42,103v1.3M176.2,60.98h1.3M219.52,103v1.3M175.3,60.00h2.2M220.50,103v2.2M176.2,53.53h1.3M226.97,103v1.3M176.2,49.74h1.3M230.76,103v1.3M176.2,47.06h1.3M233.44,103v1.3M176.2,44.97h1.3M235.53,103v1.3M176.2,43.27h1.3M237.23,103v1.3M176.2,41.83h1.3M238.67,103v1.3M176.2,40.58h1.3M239.92,103v1.3M176.2,39.48h1.3M241.02,103v1.3M175.3,38.50h2.2M242.00,103v2.2M176.2,32.03h1.3M248.47,103v1.3M176.2,28.24h1.3M252.26,103v1.3M176.2,25.56h1.3M254.94,103v1.3M176.2,23.47h1.3M257.03,103v1.3M176.2,21.77h1.3M258.73,103v1.3M176.2,20.33h1.3M260.17,103v1.3M176.2,19.08h1.3M261.42,103v1.3M176.2,17.98h1.3M262.52,103v1.3M175.3,17h2.2M263.5,103v2.2" stroke="#111" stroke-width="0.8"/><text class="t" x="174.3" y="104.6" font-size="4.2" text-anchor="end" fill="#333" font-family="Liberation Sans, sans-serif">10<tspan font-size="2.8" dy="-1.6">0</tspan></text><text class="t" x="177.8" y="110.2" font-size="4.2" text-anchor="middle" fill="#333" font-family="Liberation Sans, sans-serif">10<tspan font-size="2.8" dy="-1.6">0</tspan></text><text class="t" x="174.3" y="83.1" font-size="4.2" text-anchor="end" fill="#333" font-family="Liberation Sans, sans-serif">10<tspan font-size="2.8" dy="-1.6">1</tspan></text><text class="t" x="199.3" y="110.2" font-size="4.2" text-anchor="middle" fill="#333" font-family="Liberation Sans, sans-serif">10<tspan font-size="2.8" dy="-1.6">1</tspan></text><text class="t" x="174.3" y="61.6" font-size="4.2" text-anchor="end" fill="#333" font-family="Liberation Sans, sans-serif">10<tspan font-size="2.8" dy="-1.6">2</tspan></text><text class="t" x="220.8" y="110.2" font-size="4.2" text-anchor="middle" fill="#333" font-family="Liberation Sans, sans-serif">10<tspan font-size="2.8" dy="-1.6">2</tspan></text><text class="t" x="174.3" y="40.1" font-size="4.2" text-anchor="end" fill="#333" font-family="Liberation Sans, sans-serif">10<tspan font-size="2.8" dy="-1.6">3</tspan></text><text class="t" x="242.3" y="110.2" font-size="4.2" text-anchor="middle" fill="#333" font-family="Liberation Sans, sans-serif">10<tspan font-size="2.8" dy="-1.6">3</tspan></text><text class="t" x="174.3" y="18.6" font-size="4.2" text-anchor="end" fill="#333" font-family="Liberation Sans, sans-serif">10<tspan font-size="2.8" dy="-1.6">4</tspan></text><text class="t" x="263.8" y="110.2" font-size="4.2" text-anchor="middle" fill="#333" font-family="Liberation Sans, sans-serif">10<tspan font-size="2.8" dy="-1.6">4</tspan></text><text class="t" x="218.5" y="114.8" font-size="3.6" text-anchor="middle" fill="#444" font-family="Liberation Sans, sans-serif">FL3/4: FL2</text><text class="t" transform="translate(166.9,59.5) rotate(-90)" font-size="4" text-anchor="middle" fill="#444" font-family="Liberation Sans, sans-serif">FL1/4: FL1</text><text class="t" x="179.5" y="22" font-size="4" fill="#333" font-family="Liberation Sans, sans-serif">0</text><text class="t" x="261.7" y="22" font-size="4" text-anchor="end" fill="#333" font-family="Liberation Sans, sans-serif">0.393</text><text class="t" x="180.5" y="100.5" font-size="4" fill="#333" font-family="Liberation Sans, sans-serif">100</text><text class="t" x="261.7" y="100.5" font-size="4" text-anchor="end" fill="#333" font-family="Liberation Sans, sans-serif">0</text><path d="M64.5,125H150.5V211" fill="none" stroke="#333" stroke-width="1.1"/><line x1="93.9" y1="125" x2="93.9" y2="211" stroke="#8a8a8a" stroke-width="1.1"/><line x1="64.5" y1="185.5" x2="150.5" y2="185.5" stroke="#8a8a8a" stroke-width="1.1"/><path d="M82.4,191.4h.9v.9h-.9zM75.1,190.8h.9v.9h-.9zM84.3,192.5h.9v.9h-.9zM76.4,189.2h.9v.9h-.9zM77.3,204.3h.9v.9h-.9zM69.5,193.5h.9v.9h-.9zM68.1,198.4h.9v.9h-.9zM68.6,199.1h.9v.9h-.9zM65.4,198.2h.9v.9h-.9zM70.1,201.4h.9v.9h-.9zM75.0,204.5h.9v.9h-.9zM77.7,206.1h.9v.9h-.9zM84.6,202.3h.9v.9h-.9zM66.4,195.9h.9v.9h-.9zM78.2,204.6h.9v.9h-.9zM65.9,197.3h.9v.9h-.9zM87.0,196.1h.9v.9h-.9zM68.9,200.7h.9v.9h-.9zM69.3,201.2h.9v.9h-.9zM85.9,195.3h.9v.9h-.9zM80.3,204.8h.9v.9h-.9zM69.6,193.4h.9v.9h-.9zM85.8,194.7h.9v.9h-.9zM84.3,193.0h.9v.9h-.9zM69.7,202.3h.9v.9h-.9zM86.6,194.8h.9v.9h-.9zM81.9,191.0h.9v.9h-.9zM86.1,198.8h.9v.9h-.9zM86.0,195.7h.9v.9h-.9zM73.1,204.4h.9v.9h-.9zM90.8,198.3h.9v.9h-.9zM86.4,201.0h.9v.9h-.9zM73.8,190.0h.9v.9h-.9zM84.7,188.7h.9v.9h-.9zM73.2,204.1h.9v.9h-.9zM86.4,194.1h.9v.9h-.9zM66.3,209.5h.9v.9h-.9zM86.0,194.9h.9v.9h-.9zM88.6,202.7h.9v.9h-.9zM73.0,191.3h.9v.9h-.9zM68.3,194.1h.9v.9h-.9zM86.0,193.7h.9v.9h-.9zM80.5,204.0h.9v.9h-.9zM70.9,205.5h.9v.9h-.9zM79.6,205.3h.9v.9h-.9zM86.1,196.2h.9v.9h-.9zM74.2,206.8h.9v.9h-.9zM86.7,202.4h.9v.9h-.9zM82.0,191.4h.9v.9h-.9zM67.6,192.2h.9v.9h-.9zM74.3,190.3h.9v.9h-.9zM70.8,202.2h.9v.9h-.9zM75.3,204.2h.9v.9h-.9zM85.0,193.4h.9v.9h-.9zM70.9,203.8h.9v.9h-.9zM67.7,197.9h.9v.9h-.9zM71.7,203.9h.9v.9h-.9zM72.3,203.9h.9v.9h-.9zM86.3,194.9h.9v.9h-.9zM81.1,190.2h.9v.9h-.9zM76.6,189.8h.9v.9h-.9zM84.0,189.1h.9v.9h-.9zM75.2,189.9h.9v.9h-.9zM75.9,204.9h.9v.9h-.9zM79.6,204.2h.9v.9h-.9zM68.8,200.2h.9v.9h-.9zM79.2,190.6h.9v.9h-.9zM85.8,194.9h.9v.9h-.9zM74.5,206.6h.9v.9h-.9zM85.4,192.6h.9v.9h-.9zM72.7,204.3h.9v.9h-.9zM82.5,190.8h.9v.9h-.9zM81.1,189.7h.9v.9h-.9zM67.6,199.0h.9v.9h-.9zM69.9,202.8h.9v.9h-.9zM71.4,191.5h.9v.9h-.9zM68.5,195.9h.9v.9h-.9zM69.0,195.8h.9v.9h-.9zM87.9,197.0h.9v.9h-.9zM87.9,199.4h.9v.9h-.9zM69.0,196.0h.9v.9h-.9zM82.1,189.8h.9v.9h-.9zM74.6,187.2h.9v.9h-.9zM69.0,195.7h.9v.9h-.9zM82.1,190.0h.9v.9h-.9zM85.7,193.3h.9v.9h-.9zM80.7,186.4h.9v.9h-.9zM71.2,204.0h.9v.9h-.9zM73.2,203.4h.9v.9h-.9zM78.7,204.7h.9v.9h-.9zM89.5,205.1h.9v.9h-.9zM68.4,201.0h.9v.9h-.9zM75.6,204.6h.9v.9h-.9zM77.8,190.3h.9v.9h-.9zM68.8,192.6h.9v.9h-.9zM67.0,194.2h.9v.9h-.9zM76.6,204.9h.9v.9h-.9zM74.2,190.9h.9v.9h-.9zM87.9,195.4h.9v.9h-.9zM77.9,204.9h.9v.9h-.9zM81.7,190.0h.9v.9h-.9zM85.3,193.8h.9v.9h-.9zM67.5,196.0h.9v.9h-.9zM85.8,193.6h.9v.9h-.9zM69.8,192.7h.9v.9h-.9zM68.6,193.9h.9v.9h-.9zM85.0,193.4h.9v.9h-.9zM76.6,187.9h.9v.9h-.9zM87.6,200.9h.9v.9h-.9zM68.4,199.1h.9v.9h-.9zM74.8,204.9h.9v.9h-.9zM81.5,191.2h.9v.9h-.9zM75.0,205.4h.9v.9h-.9zM83.2,191.4h.9v.9h-.9zM81.7,190.7h.9v.9h-.9zM74.6,204.2h.9v.9h-.9zM72.1,191.1h.9v.9h-.9zM84.9,191.9h.9v.9h-.9zM77.4,190.2h.9v.9h-.9zM69.1,203.3h.9v.9h-.9zM85.8,192.5h.9v.9h-.9zM85.2,193.9h.9v.9h-.9zM83.2,205.1h.9v.9h-.9zM74.3,204.7h.9v.9h-.9zM68.8,197.5h.9v.9h-.9zM77.9,187.5h.9v.9h-.9zM83.8,203.8h.9v.9h-.9zM80.7,189.8h.9v.9h-.9zM84.7,191.4h.9v.9h-.9zM70.7,203.4h.9v.9h-.9zM82.2,204.7h.9v.9h-.9zM78.7,204.4h.9v.9h-.9zM71.2,202.2h.9v.9h-.9zM68.2,198.8h.9v.9h-.9zM71.3,190.4h.9v.9h-.9zM87.2,190.7h.9v.9h-.9zM85.7,192.6h.9v.9h-.9zM81.1,188.6h.9v.9h-.9zM69.0,192.5h.9v.9h-.9zM79.6,190.6h.9v.9h-.9zM81.9,191.3h.9v.9h-.9zM78.2,204.4h.9v.9h-.9zM77.1,205.7h.9v.9h-.9zM87.8,198.6h.9v.9h-.9zM68.3,193.6h.9v.9h-.9zM79.0,190.2h.9v.9h-.9zM79.7,206.0h.9v.9h-.9zM83.9,202.2h.9v.9h-.9zM78.6,204.5h.9v.9h-.9zM87.1,194.5h.9v.9h-.9zM67.8,194.1h.9v.9h-.9zM74.4,190.6h.9v.9h-.9zM73.0,203.4h.9v.9h-.9zM80.8,205.4h.9v.9h-.9zM71.0,191.4h.9v.9h-.9zM89.0,200.0h.9v.9h-.9zM65.9,205.9h.9v.9h-.9zM70.1,193.4h.9v.9h-.9zM81.6,190.4h.9v.9h-.9zM73.6,191.2h.9v.9h-.9zM70.0,192.7h.9v.9h-.9zM85.7,200.7h.9v.9h-.9zM67.7,198.4h.9v.9h-.9zM78.4,190.5h.9v.9h-.9zM90.0,198.3h.9v.9h-.9zM68.5,197.0h.9v.9h-.9zM79.9,204.4h.9v.9h-.9zM79.8,190.7h.9v.9h-.9zM82.9,190.5h.9v.9h-.9zM71.1,203.7h.9v.9h-.9zM81.3,204.0h.9v.9h-.9zM82.8,191.9h.9v.9h-.9zM79.8,189.6h.9v.9h-.9zM86.4,198.2h.9v.9h-.9zM76.6,188.9h.9v.9h-.9zM73.0,206.1h.9v.9h-.9zM80.3,205.7h.9v.9h-.9zM86.4,203.6h.9v.9h-.9zM85.5,201.2h.9v.9h-.9zM78.6,190.0h.9v.9h-.9zM72.2,190.4h.9v.9h-.9zM70.4,192.8h.9v.9h-.9zM74.7,190.6h.9v.9h-.9zM76.5,204.6h.9v.9h-.9zM84.4,202.2h.9v.9h-.9zM72.2,191.3h.9v.9h-.9zM71.2,202.7h.9v.9h-.9zM80.2,205.0h.9v.9h-.9zM69.1,193.6h.9v.9h-.9zM89.3,199.8h.9v.9h-.9zM87.3,196.9h.9v.9h-.9zM75.7,187.7h.9v.9h-.9zM72.3,191.5h.9v.9h-.9zM67.5,189.6h.9v.9h-.9zM84.7,201.9h.9v.9h-.9zM92.2,199.1h.9v.9h-.9zM79.1,190.6h.9v.9h-.9zM77.3,188.7h.9v.9h-.9zM84.5,203.0h.9v.9h-.9zM74.2,190.7h.9v.9h-.9zM67.7,197.2h.9v.9h-.9zM71.0,191.4h.9v.9h-.9zM85.6,200.2h.9v.9h-.9zM83.0,191.5h.9v.9h-.9zM82.6,190.7h.9v.9h-.9zM66.8,193.0h.9v.9h-.9zM76.7,190.1h.9v.9h-.9zM68.5,197.6h.9v.9h-.9zM72.9,191.3h.9v.9h-.9zM86.3,198.5h.9v.9h-.9zM82.1,204.9h.9v.9h-.9zM69.3,199.8h.9v.9h-.9zM68.0,199.1h.9v.9h-.9zM70.8,202.9h.9v.9h-.9zM70.2,191.4h.9v.9h-.9zM72.4,203.4h.9v.9h-.9zM74.7,190.8h.9v.9h-.9zM69.6,194.1h.9v.9h-.9zM77.8,190.0h.9v.9h-.9zM67.8,198.5h.9v.9h-.9zM75.7,190.0h.9v.9h-.9zM71.0,205.7h.9v.9h-.9zM69.6,203.0h.9v.9h-.9zM86.9,191.7h.9v.9h-.9zM82.5,190.4h.9v.9h-.9zM76.6,190.2h.9v.9h-.9zM89.0,196.7h.9v.9h-.9zM83.6,203.3h.9v.9h-.9zM68.0,193.5h.9v.9h-.9zM84.4,204.7h.9v.9h-.9zM72.1,203.8h.9v.9h-.9zM71.8,202.8h.9v.9h-.9zM86.6,201.8h.9v.9h-.9zM79.1,189.4h.9v.9h-.9zM68.7,205.5h.9v.9h-.9zM74.2,206.2h.9v.9h-.9zM85.2,194.0h.9v.9h-.9zM85.1,190.3h.9v.9h-.9zM74.6,189.5h.9v.9h-.9zM66.4,195.3h.9v.9h-.9zM70.6,203.6h.9v.9h-.9zM85.0,193.2h.9v.9h-.9zM78.8,190.4h.9v.9h-.9zM81.4,204.3h.9v.9h-.9zM68.6,193.8h.9v.9h-.9zM78.0,204.6h.9v.9h-.9zM71.5,207.0h.9v.9h-.9zM87.2,198.4h.9v.9h-.9zM70.7,193.2h.9v.9h-.9zM74.0,207.4h.9v.9h-.9zM88.7,197.1h.9v.9h-.9zM84.9,207.9h.9v.9h-.9zM69.0,199.6h.9v.9h-.9zM84.1,192.4h.9v.9h-.9zM88.4,201.0h.9v.9h-.9zM86.5,196.8h.9v.9h-.9zM79.3,206.2h.9v.9h-.9zM74.4,190.1h.9v.9h-.9zM71.9,203.5h.9v.9h-.9zM75.0,204.3h.9v.9h-.9zM77.1,208.6h.9v.9h-.9zM88.3,197.8h.9v.9h-.9zM80.3,188.7h.9v.9h-.9zM69.7,193.1h.9v.9h-.9zM72.6,190.3h.9v.9h-.9zM76.7,190.1h.9v.9h-.9zM88.7,195.7h.9v.9h-.9zM69.4,194.2h.9v.9h-.9zM75.7,207.0h.9v.9h-.9zM68.8,188.3h.9v.9h-.9zM75.1,205.5h.9v.9h-.9zM85.1,202.1h.9v.9h-.9zM84.7,202.1h.9v.9h-.9zM78.4,190.4h.9v.9h-.9zM70.6,202.4h.9v.9h-.9zM82.8,191.7h.9v.9h-.9zM71.8,205.1h.9v.9h-.9zM73.5,189.6h.9v.9h-.9zM86.3,197.0h.9v.9h-.9zM72.0,189.9h.9v.9h-.9zM77.5,189.4h.9v.9h-.9zM85.6,200.5h.9v.9h-.9zM79.0,189.5h.9v.9h-.9zM76.9,204.3h.9v.9h-.9zM68.6,195.9h.9v.9h-.9zM77.5,189.5h.9v.9h-.9zM80.9,190.5h.9v.9h-.9zM68.8,197.7h.9v.9h-.9zM79.9,187.8h.9v.9h-.9zM78.6,205.5h.9v.9h-.9zM73.3,189.9h.9v.9h-.9zM83.1,191.8h.9v.9h-.9zM87.0,194.6h.9v.9h-.9zM86.4,196.7h.9v.9h-.9zM76.6,189.2h.9v.9h-.9zM69.7,200.7h.9v.9h-.9zM87.2,199.7h.9v.9h-.9zM85.7,202.3h.9v.9h-.9zM79.3,204.9h.9v.9h-.9zM73.3,203.7h.9v.9h-.9zM88.4,193.7h.9v.9h-.9zM71.6,190.8h.9v.9h-.9zM81.8,190.4h.9v.9h-.9zM86.1,201.0h.9v.9h-.9zM81.8,203.4h.9v.9h-.9zM86.2,193.6h.9v.9h-.9zM69.9,201.1h.9v.9h-.9zM78.3,189.5h.9v.9h-.9zM82.7,205.3h.9v.9h-.9zM86.6,195.1h.9v.9h-.9zM82.1,190.5h.9v.9h-.9zM74.6,204.7h.9v.9h-.9zM83.8,204.3h.9v.9h-.9zM85.5,200.2h.9v.9h-.9zM75.6,190.2h.9v.9h-.9zM74.2,189.5h.9v.9h-.9zM83.8,189.1h.9v.9h-.9zM83.7,190.4h.9v.9h-.9zM91.9,191.8h.9v.9h-.9zM86.1,199.3h.9v.9h-.9zM70.4,202.2h.9v.9h-.9zM82.4,205.1h.9v.9h-.9zM86.6,198.5h.9v.9h-.9zM78.2,190.1h.9v.9h-.9zM77.1,204.7h.9v.9h-.9zM68.9,199.7h.9v.9h-.9zM76.2,206.7h.9v.9h-.9zM66.7,188.2h.9v.9h-.9zM70.6,191.0h.9v.9h-.9zM70.1,190.2h.9v.9h-.9zM68.2,190.5h.9v.9h-.9zM69.0,193.5h.9v.9h-.9zM68.5,189.0h.9v.9h-.9zM66.3,196.0h.9v.9h-.9zM67.4,190.1h.9v.9h-.9zM71.2,194.3h.9v.9h-.9zM69.2,189.8h.9v.9h-.9zM73.2,192.2h.9v.9h-.9zM69.2,190.5h.9v.9h-.9zM68.9,192.2h.9v.9h-.9zM67.5,187.5h.9v.9h-.9zM70.5,199.5h.9v.9h-.9zM69.9,189.2h.9v.9h-.9zM66.1,180.6h.9v.9h-.9zM66.7,190.5h.9v.9h-.9zM70.1,192.8h.9v.9h-.9zM69.3,191.6h.9v.9h-.9zM69.5,195.3h.9v.9h-.9zM65.7,189.6h.9v.9h-.9zM64.9,195.9h.9v.9h-.9zM70.9,193.3h.9v.9h-.9zM65.4,191.5h.9v.9h-.9zM67.5,191.2h.9v.9h-.9zM67.6,192.6h.9v.9h-.9zM67.1,193.6h.9v.9h-.9zM68.5,190.1h.9v.9h-.9zM67.8,189.7h.9v.9h-.9zM69.8,190.2h.9v.9h-.9zM68.6,189.8h.9v.9h-.9zM65.7,193.0h.9v.9h-.9zM68.9,186.0h.9v.9h-.9zM65.9,189.5h.9v.9h-.9zM66.2,187.5h.9v.9h-.9zM69.6,190.3h.9v.9h-.9zM68.8,189.7h.9v.9h-.9zM68.7,188.7h.9v.9h-.9zM67.9,192.7h.9v.9h-.9zM68.1,189.6h.9v.9h-.9zM65.6,191.5h.9v.9h-.9zM68.8,190.2h.9v.9h-.9zM66.3,192.6h.9v.9h-.9zM73.5,190.1h.9v.9h-.9zM68.7,192.1h.9v.9h-.9zM66.4,195.2h.9v.9h-.9zM67.4,188.7h.9v.9h-.9zM67.5,191.5h.9v.9h-.9zM66.8,190.8h.9v.9h-.9zM65.0,190.3h.9v.9h-.9zM69.7,196.9h.9v.9h-.9zM69.6,191.8h.9v.9h-.9zM70.6,194.1h.9v.9h-.9zM71.7,194.2h.9v.9h-.9zM100.8,195.8h.9v.9h-.9zM109.2,195.3h.9v.9h-.9zM101.3,196.2h.9v.9h-.9zM109.7,195.7h.9v.9h-.9z" fill="#111"/><ellipse cx="77.6" cy="197.4" rx="11.5" ry="9.600000000000001" transform="rotate(0 77.6 197.4)" fill="#0d0d0d" fill-opacity=".35" filter="url(#bl2)"/><ellipse cx="70" cy="198.6" rx="5.800000000000001" ry="8.4" transform="rotate(0 70 198.6)" fill="#0d0d0d" fill-opacity=".35" filter="url(#bl2)"/><ellipse cx="77.6" cy="197.4" rx="9.3" ry="7.4" transform="rotate(0 77.6 197.4)" fill="#0d0d0d" filter="url(#bl1)"/><ellipse cx="70" cy="198.6" rx="3.6" ry="6.2" transform="rotate(0 70 198.6)" fill="#0d0d0d" filter="url(#bl1)"/><path d="M64.5,125V211H150.5" fill="none" stroke="#111" stroke-width="1.5"/><path d="M62.3,211.00h2.2M64.50,211v2.2M63.2,204.53h1.3M70.97,211v1.3M63.2,200.74h1.3M74.76,211v1.3M63.2,198.06h1.3M77.44,211v1.3M63.2,195.97h1.3M79.53,211v1.3M63.2,194.27h1.3M81.23,211v1.3M63.2,192.83h1.3M82.67,211v1.3M63.2,191.58h1.3M83.92,211v1.3M63.2,190.48h1.3M85.02,211v1.3M62.3,189.50h2.2M86.00,211v2.2M63.2,183.03h1.3M92.47,211v1.3M63.2,179.24h1.3M96.26,211v1.3M63.2,176.56h1.3M98.94,211v1.3M63.2,174.47h1.3M101.03,211v1.3M63.2,172.77h1.3M102.73,211v1.3M63.2,171.33h1.3M104.17,211v1.3M63.2,170.08h1.3M105.42,211v1.3M63.2,168.98h1.3M106.52,211v1.3M62.3,168.00h2.2M107.50,211v2.2M63.2,161.53h1.3M113.97,211v1.3M63.2,157.74h1.3M117.76,211v1.3M63.2,155.06h1.3M120.44,211v1.3M63.2,152.97h1.3M122.53,211v1.3M63.2,151.27h1.3M124.23,211v1.3M63.2,149.83h1.3M125.67,211v1.3M63.2,148.58h1.3M126.92,211v1.3M63.2,147.48h1.3M128.02,211v1.3M62.3,146.50h2.2M129.00,211v2.2M63.2,140.03h1.3M135.47,211v1.3M63.2,136.24h1.3M139.26,211v1.3M63.2,133.56h1.3M141.94,211v1.3M63.2,131.47h1.3M144.03,211v1.3M63.2,129.77h1.3M145.73,211v1.3M63.2,128.33h1.3M147.17,211v1.3M63.2,127.08h1.3M148.42,211v1.3M63.2,125.98h1.3M149.52,211v1.3M62.3,125h2.2M150.5,211v2.2" stroke="#111" stroke-width="0.8"/><text class="t" x="61.3" y="212.6" font-size="4.2" text-anchor="end" fill="#333" font-family="Liberation Sans, sans-serif">10<tspan font-size="2.8" dy="-1.6">0</tspan></text><text class="t" x="64.8" y="218.2" font-size="4.2" text-anchor="middle" fill="#333" font-family="Liberation Sans, sans-serif">10<tspan font-size="2.8" dy="-1.6">0</tspan></text><text class="t" x="61.3" y="191.1" font-size="4.2" text-anchor="end" fill="#333" font-family="Liberation Sans, sans-serif">10<tspan font-size="2.8" dy="-1.6">1</tspan></text><text class="t" x="86.3" y="218.2" font-size="4.2" text-anchor="middle" fill="#333" font-family="Liberation Sans, sans-serif">10<tspan font-size="2.8" dy="-1.6">1</tspan></text><text class="t" x="61.3" y="169.6" font-size="4.2" text-anchor="end" fill="#333" font-family="Liberation Sans, sans-serif">10<tspan font-size="2.8" dy="-1.6">2</tspan></text><text class="t" x="107.8" y="218.2" font-size="4.2" text-anchor="middle" fill="#333" font-family="Liberation Sans, sans-serif">10<tspan font-size="2.8" dy="-1.6">2</tspan></text><text class="t" x="61.3" y="148.1" font-size="4.2" text-anchor="end" fill="#333" font-family="Liberation Sans, sans-serif">10<tspan font-size="2.8" dy="-1.6">3</tspan></text><text class="t" x="129.3" y="218.2" font-size="4.2" text-anchor="middle" fill="#333" font-family="Liberation Sans, sans-serif">10<tspan font-size="2.8" dy="-1.6">3</tspan></text><text class="t" x="61.3" y="126.6" font-size="4.2" text-anchor="end" fill="#333" font-family="Liberation Sans, sans-serif">10<tspan font-size="2.8" dy="-1.6">4</tspan></text><text class="t" x="150.8" y="218.2" font-size="4.2" text-anchor="middle" fill="#333" font-family="Liberation Sans, sans-serif">10<tspan font-size="2.8" dy="-1.6">4</tspan></text><text class="t" x="105.5" y="222.8" font-size="3.6" text-anchor="middle" fill="#444" font-family="Liberation Sans, sans-serif">FL3/4: FL2</text><text class="t" transform="translate(53.9,167.5) rotate(-90)" font-size="4" text-anchor="middle" fill="#444" font-family="Liberation Sans, sans-serif">FL1/4: FL1</text><text class="t" x="66.5" y="130" font-size="4" fill="#333" font-family="Liberation Sans, sans-serif">0.29</text><text class="t" x="148.7" y="130" font-size="4" text-anchor="end" fill="#333" font-family="Liberation Sans, sans-serif">0</text><text class="t" x="67.5" y="208.5" font-size="4" fill="#333" font-family="Liberation Sans, sans-serif">99.7</text><text class="t" x="148.7" y="208.5" font-size="4" text-anchor="end" fill="#333" font-family="Liberation Sans, sans-serif">0.324</text><path d="M177.5,125H263.5V211" fill="none" stroke="#333" stroke-width="1.1"/><line x1="205.9" y1="125" x2="205.9" y2="211" stroke="#555" stroke-width="1.1"/><line x1="177.5" y1="185.8" x2="263.5" y2="185.8" stroke="#555" stroke-width="1.1"/><path d="M180.4,202.3h.9v.9h-.9zM184.2,205.2h.9v.9h-.9zM181.5,196.7h.9v.9h-.9zM180.8,197.6h.9v.9h-.9zM181.5,197.7h.9v.9h-.9zM183.9,206.9h.9v.9h-.9zM200.5,192.1h.9v.9h-.9zM202.4,194.2h.9v.9h-.9zM197.0,189.5h.9v.9h-.9zM193.7,189.5h.9v.9h-.9zM198.6,191.4h.9v.9h-.9zM195.8,203.4h.9v.9h-.9zM193.5,208.3h.9v.9h-.9zM192.4,191.0h.9v.9h-.9zM205.8,191.7h.9v.9h-.9zM189.1,192.4h.9v.9h-.9zM204.9,199.1h.9v.9h-.9zM200.2,192.2h.9v.9h-.9zM198.7,191.7h.9v.9h-.9zM199.3,189.7h.9v.9h-.9zM181.9,197.0h.9v.9h-.9zM185.7,193.8h.9v.9h-.9zM182.9,195.0h.9v.9h-.9zM179.8,201.1h.9v.9h-.9zM201.7,194.1h.9v.9h-.9zM194.3,191.0h.9v.9h-.9zM202.5,197.0h.9v.9h-.9zM179.2,202.2h.9v.9h-.9zM197.6,190.4h.9v.9h-.9zM201.2,192.8h.9v.9h-.9zM181.7,204.1h.9v.9h-.9zM201.1,192.3h.9v.9h-.9zM181.5,197.3h.9v.9h-.9zM193.2,191.2h.9v.9h-.9zM182.6,205.0h.9v.9h-.9zM196.3,190.6h.9v.9h-.9zM181.3,196.8h.9v.9h-.9zM203.7,204.5h.9v.9h-.9zM189.6,191.9h.9v.9h-.9zM203.3,193.2h.9v.9h-.9zM198.4,202.1h.9v.9h-.9zM190.8,206.2h.9v.9h-.9zM180.6,204.3h.9v.9h-.9zM201.1,190.3h.9v.9h-.9zM182.2,205.7h.9v.9h-.9zM199.0,186.6h.9v.9h-.9zM180.3,203.0h.9v.9h-.9zM191.9,205.1h.9v.9h-.9zM183.6,207.0h.9v.9h-.9zM183.2,205.6h.9v.9h-.9zM201.1,198.0h.9v.9h-.9zM183.6,195.0h.9v.9h-.9zM179.0,205.4h.9v.9h-.9zM178.8,196.7h.9v.9h-.9zM189.0,190.1h.9v.9h-.9zM204.5,196.4h.9v.9h-.9zM200.9,192.1h.9v.9h-.9zM200.3,192.4h.9v.9h-.9zM203.9,196.1h.9v.9h-.9zM182.7,205.5h.9v.9h-.9zM200.8,191.4h.9v.9h-.9zM202.2,192.2h.9v.9h-.9zM193.6,204.2h.9v.9h-.9zM178.7,202.4h.9v.9h-.9zM197.4,191.4h.9v.9h-.9zM201.7,195.8h.9v.9h-.9zM180.7,203.3h.9v.9h-.9zM182.7,196.5h.9v.9h-.9zM194.8,206.6h.9v.9h-.9zM180.3,203.0h.9v.9h-.9zM201.5,194.2h.9v.9h-.9zM188.3,205.9h.9v.9h-.9zM179.6,205.7h.9v.9h-.9zM181.1,203.4h.9v.9h-.9zM192.3,205.1h.9v.9h-.9zM202.4,194.9h.9v.9h-.9zM180.1,203.8h.9v.9h-.9zM187.0,207.3h.9v.9h-.9zM188.1,205.4h.9v.9h-.9zM203.6,195.1h.9v.9h-.9zM189.0,205.4h.9v.9h-.9zM179.6,198.5h.9v.9h-.9zM181.2,198.4h.9v.9h-.9zM183.5,205.1h.9v.9h-.9zM202.0,194.6h.9v.9h-.9zM200.7,200.0h.9v.9h-.9zM202.4,193.0h.9v.9h-.9zM193.2,204.3h.9v.9h-.9zM179.5,201.8h.9v.9h-.9zM197.5,190.6h.9v.9h-.9zM180.4,199.0h.9v.9h-.9zM180.4,201.8h.9v.9h-.9zM200.7,198.8h.9v.9h-.9zM189.7,206.1h.9v.9h-.9zM185.7,193.9h.9v.9h-.9zM201.5,198.8h.9v.9h-.9zM184.0,195.2h.9v.9h-.9zM186.0,192.5h.9v.9h-.9zM179.5,200.6h.9v.9h-.9zM202.4,197.3h.9v.9h-.9zM188.1,192.8h.9v.9h-.9zM179.5,201.6h.9v.9h-.9zM180.1,206.3h.9v.9h-.9zM181.9,195.2h.9v.9h-.9zM191.8,205.0h.9v.9h-.9zM181.6,195.3h.9v.9h-.9zM198.2,188.9h.9v.9h-.9zM201.9,193.0h.9v.9h-.9zM198.4,191.2h.9v.9h-.9zM186.1,193.7h.9v.9h-.9zM180.4,203.7h.9v.9h-.9zM202.1,196.3h.9v.9h-.9zM185.2,192.2h.9v.9h-.9zM183.8,207.4h.9v.9h-.9zM198.9,191.5h.9v.9h-.9zM194.4,190.9h.9v.9h-.9zM187.4,205.6h.9v.9h-.9zM196.1,203.4h.9v.9h-.9zM203.2,202.6h.9v.9h-.9zM201.0,193.2h.9v.9h-.9zM201.5,196.3h.9v.9h-.9zM199.8,191.9h.9v.9h-.9zM183.5,194.4h.9v.9h-.9zM196.6,202.4h.9v.9h-.9zM185.0,194.6h.9v.9h-.9zM197.0,190.1h.9v.9h-.9zM194.3,203.7h.9v.9h-.9zM182.3,195.6h.9v.9h-.9zM188.7,205.6h.9v.9h-.9zM179.9,204.5h.9v.9h-.9zM180.6,196.1h.9v.9h-.9zM197.7,201.9h.9v.9h-.9zM196.7,191.2h.9v.9h-.9zM195.8,189.4h.9v.9h-.9zM180.6,199.3h.9v.9h-.9zM188.8,191.2h.9v.9h-.9zM190.5,207.3h.9v.9h-.9zM180.7,203.2h.9v.9h-.9zM203.0,196.6h.9v.9h-.9zM200.8,198.2h.9v.9h-.9zM180.4,197.2h.9v.9h-.9zM179.5,206.0h.9v.9h-.9zM201.5,189.8h.9v.9h-.9zM190.6,191.9h.9v.9h-.9zM203.5,201.7h.9v.9h-.9zM200.8,192.4h.9v.9h-.9zM180.1,202.1h.9v.9h-.9zM183.3,205.3h.9v.9h-.9zM192.0,204.8h.9v.9h-.9zM204.3,198.4h.9v.9h-.9zM181.3,204.6h.9v.9h-.9zM181.5,196.3h.9v.9h-.9zM184.9,210.3h.9v.9h-.9zM183.6,206.5h.9v.9h-.9zM192.5,190.5h.9v.9h-.9zM181.9,204.2h.9v.9h-.9zM201.8,198.8h.9v.9h-.9zM202.1,198.0h.9v.9h-.9zM179.9,197.1h.9v.9h-.9zM202.2,193.8h.9v.9h-.9zM200.8,200.7h.9v.9h-.9zM181.1,205.0h.9v.9h-.9zM189.7,190.7h.9v.9h-.9zM180.4,199.2h.9v.9h-.9zM206.0,187.0h.9v.9h-.9zM203.4,192.2h.9v.9h-.9zM202.5,198.5h.9v.9h-.9zM190.8,191.5h.9v.9h-.9zM181.2,198.0h.9v.9h-.9zM196.7,203.0h.9v.9h-.9zM201.7,196.9h.9v.9h-.9zM195.5,204.8h.9v.9h-.9zM188.1,207.1h.9v.9h-.9zM192.3,190.6h.9v.9h-.9zM201.7,196.1h.9v.9h-.9zM181.3,197.8h.9v.9h-.9zM193.8,204.8h.9v.9h-.9zM179.7,203.1h.9v.9h-.9zM178.7,200.4h.9v.9h-.9zM201.7,195.6h.9v.9h-.9zM189.3,205.9h.9v.9h-.9zM201.9,196.1h.9v.9h-.9zM197.2,202.6h.9v.9h-.9zM192.8,191.4h.9v.9h-.9zM197.4,189.3h.9v.9h-.9zM197.8,205.6h.9v.9h-.9zM190.3,207.3h.9v.9h-.9zM201.9,197.1h.9v.9h-.9zM195.9,188.2h.9v.9h-.9zM201.6,196.1h.9v.9h-.9zM202.4,193.5h.9v.9h-.9zM182.9,205.7h.9v.9h-.9zM189.8,192.0h.9v.9h-.9zM194.1,188.3h.9v.9h-.9zM179.2,206.6h.9v.9h-.9zM184.0,205.2h.9v.9h-.9zM183.0,204.9h.9v.9h-.9zM202.2,197.6h.9v.9h-.9zM194.5,189.2h.9v.9h-.9zM178.6,203.3h.9v.9h-.9zM195.4,187.4h.9v.9h-.9zM182.6,194.4h.9v.9h-.9zM179.1,199.3h.9v.9h-.9zM179.9,204.5h.9v.9h-.9zM194.1,203.8h.9v.9h-.9zM182.7,209.1h.9v.9h-.9zM180.3,200.4h.9v.9h-.9zM193.0,191.4h.9v.9h-.9zM201.0,191.0h.9v.9h-.9zM180.5,200.3h.9v.9h-.9zM202.5,194.4h.9v.9h-.9zM190.1,205.7h.9v.9h-.9zM180.3,201.1h.9v.9h-.9zM206.1,191.1h.9v.9h-.9zM201.9,198.2h.9v.9h-.9zM180.0,201.3h.9v.9h-.9zM186.0,189.7h.9v.9h-.9zM202.9,193.3h.9v.9h-.9zM197.2,203.2h.9v.9h-.9zM184.8,206.9h.9v.9h-.9zM180.1,201.7h.9v.9h-.9zM186.2,193.4h.9v.9h-.9zM193.0,191.4h.9v.9h-.9zM201.2,184.3h.9v.9h-.9zM202.7,193.9h.9v.9h-.9zM201.0,199.3h.9v.9h-.9zM206.5,197.5h.9v.9h-.9zM198.4,202.4h.9v.9h-.9zM182.9,195.9h.9v.9h-.9zM196.7,204.1h.9v.9h-.9zM203.5,195.2h.9v.9h-.9zM188.1,205.7h.9v.9h-.9zM185.6,205.4h.9v.9h-.9zM179.3,199.8h.9v.9h-.9zM185.7,193.9h.9v.9h-.9zM189.5,205.1h.9v.9h-.9zM179.6,201.4h.9v.9h-.9zM179.5,206.1h.9v.9h-.9zM199.3,205.0h.9v.9h-.9zM186.5,193.2h.9v.9h-.9zM200.1,191.2h.9v.9h-.9zM201.3,190.1h.9v.9h-.9zM182.7,194.1h.9v.9h-.9zM180.3,198.6h.9v.9h-.9zM205.4,196.5h.9v.9h-.9zM194.1,204.2h.9v.9h-.9zM187.0,193.2h.9v.9h-.9zM189.6,205.7h.9v.9h-.9zM202.7,199.4h.9v.9h-.9zM181.7,205.3h.9v.9h-.9zM179.6,202.3h.9v.9h-.9zM179.4,204.5h.9v.9h-.9zM185.4,193.9h.9v.9h-.9zM198.7,201.3h.9v.9h-.9zM203.0,197.6h.9v.9h-.9zM179.4,203.3h.9v.9h-.9zM202.6,198.7h.9v.9h-.9zM190.6,189.5h.9v.9h-.9zM196.6,186.5h.9v.9h-.9zM203.1,195.4h.9v.9h-.9zM189.7,191.6h.9v.9h-.9zM181.1,193.9h.9v.9h-.9zM183.7,194.9h.9v.9h-.9zM195.4,190.5h.9v.9h-.9zM202.6,194.1h.9v.9h-.9zM180.5,198.0h.9v.9h-.9zM203.3,193.0h.9v.9h-.9zM195.3,204.2h.9v.9h-.9zM187.0,205.6h.9v.9h-.9zM185.5,192.9h.9v.9h-.9zM201.1,193.0h.9v.9h-.9zM200.5,190.0h.9v.9h-.9zM193.1,204.2h.9v.9h-.9zM181.7,196.9h.9v.9h-.9zM208.3,198.8h.9v.9h-.9zM201.0,202.1h.9v.9h-.9zM180.6,205.6h.9v.9h-.9zM180.0,200.2h.9v.9h-.9zM202.5,192.5h.9v.9h-.9zM187.0,193.0h.9v.9h-.9zM188.8,191.2h.9v.9h-.9zM194.6,189.4h.9v.9h-.9zM195.6,203.8h.9v.9h-.9zM198.6,191.6h.9v.9h-.9zM202.2,194.7h.9v.9h-.9zM199.5,192.1h.9v.9h-.9zM201.9,196.2h.9v.9h-.9zM198.7,190.3h.9v.9h-.9zM183.7,193.5h.9v.9h-.9zM179.2,205.0h.9v.9h-.9zM189.5,205.1h.9v.9h-.9zM181.0,198.6h.9v.9h-.9zM191.7,204.9h.9v.9h-.9zM185.8,205.7h.9v.9h-.9zM181.4,196.9h.9v.9h-.9zM202.4,196.2h.9v.9h-.9zM181.2,197.8h.9v.9h-.9zM202.6,193.0h.9v.9h-.9zM202.8,195.1h.9v.9h-.9zM199.1,191.5h.9v.9h-.9zM200.4,202.3h.9v.9h-.9zM186.6,192.0h.9v.9h-.9zM201.7,195.9h.9v.9h-.9zM183.6,204.9h.9v.9h-.9zM202.8,197.4h.9v.9h-.9zM182.2,204.3h.9v.9h-.9zM197.0,191.1h.9v.9h-.9zM198.0,190.5h.9v.9h-.9zM180.7,197.3h.9v.9h-.9zM181.9,194.3h.9v.9h-.9zM193.4,206.0h.9v.9h-.9zM197.3,203.5h.9v.9h-.9zM188.2,192.5h.9v.9h-.9zM184.7,206.8h.9v.9h-.9zM197.5,203.9h.9v.9h-.9zM198.1,190.6h.9v.9h-.9zM187.5,206.5h.9v.9h-.9zM188.6,205.4h.9v.9h-.9zM197.6,205.4h.9v.9h-.9zM193.9,190.9h.9v.9h-.9zM196.4,202.9h.9v.9h-.9zM199.9,200.0h.9v.9h-.9zM202.3,196.2h.9v.9h-.9zM201.0,199.1h.9v.9h-.9zM198.8,202.8h.9v.9h-.9zM185.1,205.7h.9v.9h-.9zM181.7,194.6h.9v.9h-.9zM191.9,188.7h.9v.9h-.9zM184.8,205.6h.9v.9h-.9zM189.5,207.0h.9v.9h-.9zM192.6,189.5h.9v.9h-.9zM198.0,188.3h.9v.9h-.9zM184.6,194.6h.9v.9h-.9zM194.3,204.6h.9v.9h-.9zM198.8,191.6h.9v.9h-.9zM199.1,190.5h.9v.9h-.9zM192.5,190.7h.9v.9h-.9zM189.7,192.1h.9v.9h-.9zM183.3,195.9h.9v.9h-.9zM205.2,190.5h.9v.9h-.9zM199.8,201.6h.9v.9h-.9zM193.7,191.0h.9v.9h-.9zM180.4,199.9h.9v.9h-.9zM178.1,197.2h.9v.9h-.9zM186.7,193.0h.9v.9h-.9zM179.1,200.6h.9v.9h-.9zM202.3,194.2h.9v.9h-.9zM185.8,206.0h.9v.9h-.9zM194.9,205.0h.9v.9h-.9zM201.5,192.3h.9v.9h-.9zM181.9,196.1h.9v.9h-.9zM182.7,194.5h.9v.9h-.9zM203.2,193.4h.9v.9h-.9zM199.1,201.2h.9v.9h-.9zM188.9,192.0h.9v.9h-.9zM203.9,189.9h.9v.9h-.9zM195.7,189.6h.9v.9h-.9zM201.3,197.0h.9v.9h-.9zM181.5,196.3h.9v.9h-.9zM181.5,204.7h.9v.9h-.9zM199.5,202.6h.9v.9h-.9zM194.5,208.4h.9v.9h-.9zM198.5,202.1h.9v.9h-.9zM195.9,191.2h.9v.9h-.9zM190.2,191.7h.9v.9h-.9zM178.1,205.4h.9v.9h-.9zM194.0,191.2h.9v.9h-.9zM198.4,191.5h.9v.9h-.9zM202.4,193.9h.9v.9h-.9zM189.7,206.4h.9v.9h-.9zM180.8,203.3h.9v.9h-.9zM198.6,191.5h.9v.9h-.9zM190.8,205.2h.9v.9h-.9zM197.0,202.8h.9v.9h-.9zM186.7,193.6h.9v.9h-.9zM189.9,190.1h.9v.9h-.9zM184.0,205.9h.9v.9h-.9zM193.7,190.5h.9v.9h-.9zM189.2,206.6h.9v.9h-.9zM180.7,198.0h.9v.9h-.9zM181.5,206.4h.9v.9h-.9zM200.4,192.1h.9v.9h-.9zM178.6,206.2h.9v.9h-.9zM181.3,205.7h.9v.9h-.9zM201.5,198.1h.9v.9h-.9zM199.7,203.2h.9v.9h-.9zM179.6,200.6h.9v.9h-.9zM201.5,197.9h.9v.9h-.9zM201.7,198.1h.9v.9h-.9zM187.2,193.1h.9v.9h-.9zM199.0,201.5h.9v.9h-.9zM200.4,202.0h.9v.9h-.9zM205.6,198.0h.9v.9h-.9zM186.8,207.5h.9v.9h-.9zM190.0,191.6h.9v.9h-.9zM188.5,190.4h.9v.9h-.9zM188.4,205.5h.9v.9h-.9zM187.7,191.4h.9v.9h-.9zM196.2,202.8h.9v.9h-.9zM185.7,206.9h.9v.9h-.9zM191.6,189.1h.9v.9h-.9zM220.4,162.8h.9v.9h-.9zM229.4,178.9h.9v.9h-.9zM240.3,174.7h.9v.9h-.9zM182.8,176.8h.9v.9h-.9zM219.0,177.6h.9v.9h-.9zM194.4,181.7h.9v.9h-.9zM231.7,167.9h.9v.9h-.9zM197.5,177.3h.9v.9h-.9zM228.6,168.6h.9v.9h-.9zM204.1,176.2h.9v.9h-.9zM223.5,169.6h.9v.9h-.9zM225.1,179.6h.9v.9h-.9zM238.0,162.2h.9v.9h-.9zM236.0,168.9h.9v.9h-.9zM210.7,182.2h.9v.9h-.9zM225.6,172.8h.9v.9h-.9zM194.1,185.0h.9v.9h-.9zM187.9,182.7h.9v.9h-.9zM227.1,178.4h.9v.9h-.9zM237.9,168.5h.9v.9h-.9zM228.9,169.8h.9v.9h-.9zM215.5,165.2h.9v.9h-.9zM222.2,174.8h.9v.9h-.9zM228.0,167.0h.9v.9h-.9zM218.6,180.0h.9v.9h-.9zM206.1,172.8h.9v.9h-.9zM234.8,181.4h.9v.9h-.9zM206.4,183.4h.9v.9h-.9zM237.7,180.3h.9v.9h-.9zM231.9,177.6h.9v.9h-.9zM231.5,179.1h.9v.9h-.9zM233.8,177.6h.9v.9h-.9zM242.3,177.7h.9v.9h-.9zM242.4,173.7h.9v.9h-.9zM214.6,181.0h.9v.9h-.9zM206.9,183.0h.9v.9h-.9zM228.2,171.0h.9v.9h-.9zM241.3,177.5h.9v.9h-.9zM222.2,181.8h.9v.9h-.9zM181.8,181.8h.9v.9h-.9zM183.0,182.8h.9v.9h-.9zM212.3,174.5h.9v.9h-.9zM231.3,177.5h.9v.9h-.9zM236.8,165.9h.9v.9h-.9zM206.8,172.8h.9v.9h-.9zM215.5,183.0h.9v.9h-.9zM215.3,179.9h.9v.9h-.9zM187.6,178.4h.9v.9h-.9zM179.2,182.1h.9v.9h-.9zM215.9,182.6h.9v.9h-.9zM214.8,170.9h.9v.9h-.9zM235.5,165.7h.9v.9h-.9zM194.0,182.4h.9v.9h-.9zM234.9,174.8h.9v.9h-.9zM200.1,178.0h.9v.9h-.9zM216.9,172.3h.9v.9h-.9zM226.7,173.4h.9v.9h-.9zM191.4,181.1h.9v.9h-.9zM240.1,177.5h.9v.9h-.9zM240.7,177.2h.9v.9h-.9zM241.4,173.9h.9v.9h-.9zM179.4,181.5h.9v.9h-.9zM223.0,165.0h.9v.9h-.9zM224.6,174.7h.9v.9h-.9zM236.4,165.9h.9v.9h-.9zM195.4,181.6h.9v.9h-.9zM189.9,185.2h.9v.9h-.9zM232.5,173.9h.9v.9h-.9zM199.5,181.9h.9v.9h-.9zM185.4,180.7h.9v.9h-.9zM187.4,183.0h.9v.9h-.9zM223.1,179.3h.9v.9h-.9zM216.7,178.1h.9v.9h-.9zM229.0,179.3h.9v.9h-.9zM232.3,173.3h.9v.9h-.9zM179.4,186.5h.9v.9h-.9zM239.3,180.4h.9v.9h-.9zM236.4,178.6h.9v.9h-.9zM239.3,173.3h.9v.9h-.9zM230.2,167.3h.9v.9h-.9zM207.4,181.1h.9v.9h-.9zM198.6,182.0h.9v.9h-.9zM238.2,161.9h.9v.9h-.9zM209.6,182.9h.9v.9h-.9zM213.8,179.9h.9v.9h-.9zM226.2,163.9h.9v.9h-.9zM225.6,179.9h.9v.9h-.9zM225.9,177.3h.9v.9h-.9zM221.8,176.5h.9v.9h-.9zM215.0,180.3h.9v.9h-.9zM230.1,173.7h.9v.9h-.9zM208.1,177.6h.9v.9h-.9zM199.5,172.0h.9v.9h-.9zM238.0,178.4h.9v.9h-.9zM234.5,164.8h.9v.9h-.9zM227.3,181.8h.9v.9h-.9zM193.1,181.5h.9v.9h-.9zM183.6,185.0h.9v.9h-.9zM238.8,171.0h.9v.9h-.9zM239.9,180.6h.9v.9h-.9zM200.2,181.4h.9v.9h-.9zM222.2,174.0h.9v.9h-.9zM181.1,183.5h.9v.9h-.9zM208.0,173.6h.9v.9h-.9zM226.5,173.2h.9v.9h-.9zM205.9,170.9h.9v.9h-.9zM232.3,173.4h.9v.9h-.9zM238.2,167.3h.9v.9h-.9zM190.8,176.6h.9v.9h-.9zM225.6,177.2h.9v.9h-.9zM206.9,178.3h.9v.9h-.9zM193.5,178.0h.9v.9h-.9zM205.2,174.5h.9v.9h-.9zM213.4,183.0h.9v.9h-.9zM237.3,180.3h.9v.9h-.9zM230.0,174.6h.9v.9h-.9zM179.7,185.3h.9v.9h-.9zM184.6,180.7h.9v.9h-.9zM242.7,178.6h.9v.9h-.9zM217.9,174.3h.9v.9h-.9zM221.1,164.9h.9v.9h-.9zM205.4,182.2h.9v.9h-.9zM233.7,180.1h.9v.9h-.9zM217.9,180.9h.9v.9h-.9zM220.0,179.3h.9v.9h-.9zM198.7,179.1h.9v.9h-.9zM230.6,175.8h.9v.9h-.9zM196.3,184.8h.9v.9h-.9zM190.8,184.6h.9v.9h-.9zM220.3,174.7h.9v.9h-.9zM233.8,176.2h.9v.9h-.9zM201.5,183.3h.9v.9h-.9zM202.1,176.1h.9v.9h-.9zM191.7,174.9h.9v.9h-.9zM220.6,180.1h.9v.9h-.9zM230.3,171.7h.9v.9h-.9zM190.0,184.1h.9v.9h-.9zM216.6,170.9h.9v.9h-.9zM216.9,182.1h.9v.9h-.9zM188.6,183.2h.9v.9h-.9zM216.3,171.5h.9v.9h-.9zM200.2,180.0h.9v.9h-.9zM195.2,173.1h.9v.9h-.9zM242.2,177.8h.9v.9h-.9zM187.3,179.7h.9v.9h-.9zM204.8,178.4h.9v.9h-.9zM221.6,182.7h.9v.9h-.9zM208.7,182.3h.9v.9h-.9zM181.1,185.4h.9v.9h-.9zM235.6,175.6h.9v.9h-.9zM213.8,188.4h.9v.9h-.9zM223.4,197.5h.9v.9h-.9zM229.4,192.5h.9v.9h-.9zM221.0,192.2h.9v.9h-.9zM206.7,198.0h.9v.9h-.9zM231.0,195.5h.9v.9h-.9zM211.1,199.7h.9v.9h-.9zM215.0,198.4h.9v.9h-.9zM219.7,188.5h.9v.9h-.9zM222.1,193.5h.9v.9h-.9zM214.9,197.0h.9v.9h-.9zM217.5,188.1h.9v.9h-.9zM222.3,194.1h.9v.9h-.9zM217.9,199.9h.9v.9h-.9zM213.4,190.1h.9v.9h-.9zM216.7,188.5h.9v.9h-.9zM216.0,190.8h.9v.9h-.9zM213.6,191.5h.9v.9h-.9zM221.6,190.7h.9v.9h-.9zM219.3,192.6h.9v.9h-.9zM216.7,197.8h.9v.9h-.9zM224.4,193.7h.9v.9h-.9zM227.1,194.7h.9v.9h-.9zM222.9,188.4h.9v.9h-.9zM214.9,187.8h.9v.9h-.9zM230.4,199.4h.9v.9h-.9zM221.0,174.0h.9v.9h-.9zM222.0,175.0h.9v.9h-.9zM223.0,176.0h.9v.9h-.9zM224.0,177.0h.9v.9h-.9zM220.0,175.0h.9v.9h-.9zM219.0,176.0h.9v.9h-.9z" fill="#111"/><ellipse cx="191" cy="198.3" rx="14.2" ry="8.8" transform="rotate(-22 191 198.3)" fill="#0d0d0d" fill-opacity=".35" filter="url(#bl2)"/><ellipse cx="184" cy="201" rx="8.2" ry="6.7" transform="rotate(0 184 201)" fill="#0d0d0d" fill-opacity=".35" filter="url(#bl2)"/><ellipse cx="191" cy="198.3" rx="12.0" ry="6.6" transform="rotate(-22 191 198.3)" fill="#0d0d0d" filter="url(#bl1)"/><ellipse cx="184" cy="201" rx="6" ry="4.5" transform="rotate(0 184 201)" fill="#0d0d0d" filter="url(#bl1)"/><path d="M177.5,125V211H263.5" fill="none" stroke="#111" stroke-width="1.5"/><path d="M175.3,211.00h2.2M177.50,211v2.2M176.2,204.53h1.3M183.97,211v1.3M176.2,200.74h1.3M187.76,211v1.3M176.2,198.06h1.3M190.44,211v1.3M176.2,195.97h1.3M192.53,211v1.3M176.2,194.27h1.3M194.23,211v1.3M176.2,192.83h1.3M195.67,211v1.3M176.2,191.58h1.3M196.92,211v1.3M176.2,190.48h1.3M198.02,211v1.3M175.3,189.50h2.2M199.00,211v2.2M176.2,183.03h1.3M205.47,211v1.3M176.2,179.24h1.3M209.26,211v1.3M176.2,176.56h1.3M211.94,211v1.3M176.2,174.47h1.3M214.03,211v1.3M176.2,172.77h1.3M215.73,211v1.3M176.2,171.33h1.3M217.17,211v1.3M176.2,170.08h1.3M218.42,211v1.3M176.2,168.98h1.3M219.52,211v1.3M175.3,168.00h2.2M220.50,211v2.2M176.2,161.53h1.3M226.97,211v1.3M176.2,157.74h1.3M230.76,211v1.3M176.2,155.06h1.3M233.44,211v1.3M176.2,152.97h1.3M235.53,211v1.3M176.2,151.27h1.3M237.23,211v1.3M176.2,149.83h1.3M238.67,211v1.3M176.2,148.58h1.3M239.92,211v1.3M176.2,147.48h1.3M241.02,211v1.3M175.3,146.50h2.2M242.00,211v2.2M176.2,140.03h1.3M248.47,211v1.3M176.2,136.24h1.3M252.26,211v1.3M176.2,133.56h1.3M254.94,211v1.3M176.2,131.47h1.3M257.03,211v1.3M176.2,129.77h1.3M258.73,211v1.3M176.2,128.33h1.3M260.17,211v1.3M176.2,127.08h1.3M261.42,211v1.3M176.2,125.98h1.3M262.52,211v1.3M175.3,125h2.2M263.5,211v2.2" stroke="#111" stroke-width="0.8"/><text class="t" x="174.3" y="212.6" font-size="4.2" text-anchor="end" fill="#333" font-family="Liberation Sans, sans-serif">10<tspan font-size="2.8" dy="-1.6">0</tspan></text><text class="t" x="177.8" y="218.2" font-size="4.2" text-anchor="middle" fill="#333" font-family="Liberation Sans, sans-serif">10<tspan font-size="2.8" dy="-1.6">0</tspan></text><text class="t" x="174.3" y="191.1" font-size="4.2" text-anchor="end" fill="#333" font-family="Liberation Sans, sans-serif">10<tspan font-size="2.8" dy="-1.6">1</tspan></text><text class="t" x="199.3" y="218.2" font-size="4.2" text-anchor="middle" fill="#333" font-family="Liberation Sans, sans-serif">10<tspan font-size="2.8" dy="-1.6">1</tspan></text><text class="t" x="174.3" y="169.6" font-size="4.2" text-anchor="end" fill="#333" font-family="Liberation Sans, sans-serif">10<tspan font-size="2.8" dy="-1.6">2</tspan></text><text class="t" x="220.8" y="218.2" font-size="4.2" text-anchor="middle" fill="#333" font-family="Liberation Sans, sans-serif">10<tspan font-size="2.8" dy="-1.6">2</tspan></text><text class="t" x="174.3" y="148.1" font-size="4.2" text-anchor="end" fill="#333" font-family="Liberation Sans, sans-serif">10<tspan font-size="2.8" dy="-1.6">3</tspan></text><text class="t" x="242.3" y="218.2" font-size="4.2" text-anchor="middle" fill="#333" font-family="Liberation Sans, sans-serif">10<tspan font-size="2.8" dy="-1.6">3</tspan></text><text class="t" x="174.3" y="126.6" font-size="4.2" text-anchor="end" fill="#333" font-family="Liberation Sans, sans-serif">10<tspan font-size="2.8" dy="-1.6">4</tspan></text><text class="t" x="263.8" y="218.2" font-size="4.2" text-anchor="middle" fill="#333" font-family="Liberation Sans, sans-serif">10<tspan font-size="2.8" dy="-1.6">4</tspan></text><text class="t" x="218.5" y="222.8" font-size="3.6" text-anchor="middle" fill="#444" font-family="Liberation Sans, sans-serif">FL3/4: FL2</text><text class="t" transform="translate(166.9,167.5) rotate(-90)" font-size="4" text-anchor="middle" fill="#444" font-family="Liberation Sans, sans-serif">FL1/4: FL1</text><text class="t" x="179.5" y="130" font-size="4" fill="#333" font-family="Liberation Sans, sans-serif">1.05</text><text class="t" x="261.7" y="130" font-size="4" text-anchor="end" fill="#333" font-family="Liberation Sans, sans-serif">1.12</text><text class="t" x="180.5" y="208.5" font-size="4" fill="#333" font-family="Liberation Sans, sans-serif">97.4</text><text class="t" x="261.7" y="208.5" font-size="4" text-anchor="end" fill="#333" font-family="Liberation Sans, sans-serif">0.45</text><text x="280.8" y="33.4" font-size="10.4" font-weight="bold" fill="#111" font-family="Liberation Sans, sans-serif">B</text><path d="M303.6,42.2V166.6H505.6" fill="none" stroke="#333" stroke-width="1.3"/><path d="M301.6,166.60h2M301.6,125.10h2M301.6,83.60h2M301.6,42.10h2M303.60,166.6v2M354.10,166.6v2M404.60,166.6v2M455.10,166.6v2M505.60,166.6v2" stroke="#222" stroke-width="0.9"/><text x="298.3" y="169.50" font-size="6.3" text-anchor="end" fill="#222" font-family="Liberation Sans, sans-serif">0</text><text x="298.3" y="128.00" font-size="6.3" text-anchor="end" fill="#222" font-family="Liberation Sans, sans-serif">0.5</text><text x="298.3" y="86.50" font-size="6.3" text-anchor="end" fill="#222" font-family="Liberation Sans, sans-serif">1</text><text x="298.3" y="45.00" font-size="6.3" text-anchor="end" fill="#222" font-family="Liberation Sans, sans-serif">1.5</text><text x="328.85" y="177.8" font-size="6.2" text-anchor="middle" fill="#222" font-family="Liberation Sans, sans-serif">5</text><text x="379.35" y="177.8" font-size="6.2" text-anchor="middle" fill="#222" font-family="Liberation Sans, sans-serif">12</text><text x="429.85" y="177.8" font-size="6.2" text-anchor="middle" fill="#222" font-family="Liberation Sans, sans-serif">24</text><text x="480.35" y="177.8" font-size="6.2" text-anchor="middle" fill="#222" font-family="Liberation Sans, sans-serif">48</text><text x="404.2" y="188.3" font-size="6.7" text-anchor="middle" fill="#222" font-family="Liberation Sans, sans-serif">Time (hour)</text><text transform="translate(284.7,101.6) rotate(-90)" font-size="6.56" text-anchor="middle" fill="#222" font-family="Liberation Sans, sans-serif">CD107<tspan font-size="4.2" dy="-2.2">+</tspan><tspan dy="2.2"> IFN-</tspan><tspan font-family="Liberation Serif, serif">γ</tspan><tspan font-size="4.2" dy="-2.2">+</tspan><tspan dy="2.2"> in CD8</tspan><tspan font-size="4.2" dy="-2.2">+</tspan><tspan dy="2.2"> T cells (%)</tspan></text><polyline points="328.85,166.60 379.35,164.11 429.85,164.94 480.35,165.77" fill="none" stroke="#111" stroke-width="1.1" stroke-dasharray="1.4,2"/><polyline points="328.85,166.60 379.35,164.94 429.85,165.77 480.35,165.77" fill="none" stroke="#111" stroke-width="1.1" stroke-dasharray="1.4,2"/><polyline points="328.85,166.60 379.35,165.77 429.85,166.60 480.35,166.60" fill="none" stroke="#111" stroke-width="1.1" stroke-dasharray="1.4,2"/><polyline points="328.85,166.60 379.35,162.45 429.85,160.96 480.35,164.94" fill="none" stroke="#111" stroke-width="1.25"/><polyline points="328.85,166.60 379.35,163.28 429.85,163.28 480.35,165.77" fill="none" stroke="#111" stroke-width="1.25"/><polyline points="328.85,166.60 379.35,166.60 429.85,166.60 480.35,166.60" fill="none" stroke="#111" stroke-width="1.25"/><polyline points="328.85,166.60 379.35,155.81 429.85,74.47 480.35,160.79" fill="none" stroke="#111" stroke-width="1.25"/><polyline points="328.85,166.60 379.35,159.96 429.85,135.06 480.35,160.79" fill="none" stroke="#111" stroke-width="1.25"/><polyline points="328.85,166.60 379.35,159.96 429.85,115.97 480.35,153.32" fill="none" stroke="#111" stroke-width="1.25"/><circle cx="328.85" cy="166.60" r="1.50" fill="#fff" stroke="#111" stroke-width="0.9"/><circle cx="379.35" cy="164.11" r="1.50" fill="#fff" stroke="#111" stroke-width="0.9"/><circle cx="429.85" cy="164.94" r="1.50" fill="#fff" stroke="#111" stroke-width="0.9"/><circle cx="480.35" cy="165.77" r="1.50" fill="#fff" stroke="#111" stroke-width="0.9"/><path d="M328.85,164.80L330.65,168.04H327.05Z" fill="#222"/><path d="M379.35,163.14L381.15,166.38H377.55Z" fill="#222"/><path d="M429.85,163.97L431.65,167.21H428.05Z" fill="#222"/><path d="M480.35,163.97L482.15,167.21H478.55Z" fill="#222"/><rect x="327.30" y="165.05" width="3.10" height="3.10" fill="#fff" stroke="#111" stroke-width="0.9"/><rect x="377.80" y="164.22" width="3.10" height="3.10" fill="#fff" stroke="#111" stroke-width="0.9"/><rect x="428.30" y="165.05" width="3.10" height="3.10" fill="#fff" stroke="#111" stroke-width="0.9"/><rect x="478.80" y="165.05" width="3.10" height="3.10" fill="#fff" stroke="#111" stroke-width="0.9"/><circle cx="328.85" cy="166.60" r="1.50" fill="#fff" stroke="#111" stroke-width="0.9"/><circle cx="379.35" cy="162.45" r="1.50" fill="#fff" stroke="#111" stroke-width="0.9"/><circle cx="429.85" cy="160.96" r="1.50" fill="#fff" stroke="#111" stroke-width="0.9"/><circle cx="480.35" cy="164.94" r="1.50" fill="#fff" stroke="#111" stroke-width="0.9"/><path d="M328.85,164.80L330.65,168.04H327.05Z" fill="#222"/><path d="M379.35,161.48L381.15,164.72H377.55Z" fill="#222"/><path d="M429.85,161.48L431.65,164.72H428.05Z" fill="#222"/><path d="M480.35,163.97L482.15,167.21H478.55Z" fill="#222"/><rect x="327.30" y="165.05" width="3.10" height="3.10" fill="#fff" stroke="#111" stroke-width="0.9"/><rect x="377.80" y="165.05" width="3.10" height="3.10" fill="#fff" stroke="#111" stroke-width="0.9"/><rect x="428.30" y="165.05" width="3.10" height="3.10" fill="#fff" stroke="#111" stroke-width="0.9"/><rect x="478.80" y="165.05" width="3.10" height="3.10" fill="#fff" stroke="#111" stroke-width="0.9"/><circle cx="328.85" cy="166.60" r="1.90" fill="#111"/><circle cx="379.35" cy="155.81" r="1.90" fill="#111"/><circle cx="429.85" cy="74.47" r="1.90" fill="#111"/><circle cx="480.35" cy="160.79" r="1.90" fill="#111"/><path d="M328.85,164.40L331.05,168.36H326.65Z" fill="#111"/><path d="M379.35,157.76L381.55,161.72H377.15Z" fill="#111"/><path d="M429.85,132.86L432.05,136.82H427.65Z" fill="#111"/><path d="M480.35,158.59L482.55,162.55H478.15Z" fill="#111"/><rect x="326.75" y="164.50" width="4.20" height="4.20" fill="#111"/><rect x="377.25" y="157.86" width="4.20" height="4.20" fill="#111"/><rect x="427.75" y="113.87" width="4.20" height="4.20" fill="#111"/><rect x="478.25" y="151.22" width="4.20" height="4.20" fill="#111"/><line x1="475" y1="38.50" x2="496.5" y2="38.50" stroke="#222" stroke-width="1.1" stroke-dasharray="1.4,2"/><circle cx="486.30" cy="38.50" r="1.50" fill="#fff" stroke="#111" stroke-width="0.9"/><text x="498.1" y="41.70" font-size="6.35" fill="#222" font-family="Liberation Sans, sans-serif">ND#1</text><line x1="475" y1="47.10" x2="496.5" y2="47.10" stroke="#222" stroke-width="1.1" stroke-dasharray="1.4,2"/><path d="M486.30,45.30L488.10,48.54H484.50Z" fill="#222"/><text x="498.1" y="50.30" font-size="6.35" fill="#222" font-family="Liberation Sans, sans-serif">ND#2</text><line x1="475" y1="55.70" x2="496.5" y2="55.70" stroke="#222" stroke-width="1.1" stroke-dasharray="1.4,2"/><rect x="484.75" y="54.15" width="3.10" height="3.10" fill="#fff" stroke="#111" stroke-width="0.9"/><text x="498.1" y="58.90" font-size="6.35" fill="#222" font-family="Liberation Sans, sans-serif">ND#3</text><line x1="475" y1="64.30" x2="496.5" y2="64.30" stroke="#222" stroke-width="1.25"/><circle cx="486.30" cy="64.30" r="1.50" fill="#fff" stroke="#111" stroke-width="0.9"/><text x="498.1" y="67.50" font-size="6.35" fill="#222" font-family="Liberation Sans, sans-serif">AC#1</text><line x1="475" y1="72.90" x2="496.5" y2="72.90" stroke="#222" stroke-width="1.25"/><path d="M486.30,71.10L488.10,74.34H484.50Z" fill="#222"/><text x="498.1" y="76.10" font-size="6.35" fill="#222" font-family="Liberation Sans, sans-serif">AC#2</text><line x1="475" y1="81.50" x2="496.5" y2="81.50" stroke="#222" stroke-width="1.25"/><rect x="484.75" y="79.95" width="3.10" height="3.10" fill="#fff" stroke="#111" stroke-width="0.9"/><text x="498.1" y="84.70" font-size="6.35" fill="#222" font-family="Liberation Sans, sans-serif">AC#3</text><line x1="475" y1="90.10" x2="496.5" y2="90.10" stroke="#222" stroke-width="1.25"/><circle cx="486.30" cy="90.10" r="1.90" fill="#111"/><text x="498.1" y="93.30" font-size="6.35" fill="#222" font-family="Liberation Sans, sans-serif">HAM#1</text><line x1="475" y1="98.70" x2="496.5" y2="98.70" stroke="#222" stroke-width="1.25"/><path d="M486.30,96.50L488.50,100.46H484.10Z" fill="#111"/><text x="498.1" y="101.90" font-size="6.35" fill="#222" font-family="Liberation Sans, sans-serif">HAM#2</text><line x1="475" y1="107.30" x2="496.5" y2="107.30" stroke="#222" stroke-width="1.25"/><rect x="484.20" y="105.20" width="4.20" height="4.20" fill="#111"/><text x="498.1" y="110.50" font-size="6.35" fill="#222" font-family="Liberation Sans, sans-serif">HAM#3</text><text x="280.8" y="211.4" font-size="10.4" font-weight="bold" fill="#111" font-family="Liberation Sans, sans-serif">D</text><path d="M303.6,223.3V345.6H484.6" fill="none" stroke="#333" stroke-width="1.3"/><path d="M301.6,345.60h2M301.6,325.20h2M301.6,304.80h2M301.6,284.40h2M301.6,264.00h2M301.6,243.60h2M301.6,223.20h2" stroke="#222" stroke-width="0.9"/><text x="299.9" y="348.30" font-size="6.3" text-anchor="end" fill="#222" font-family="Liberation Sans, sans-serif">0</text><text x="299.9" y="327.90" font-size="6.3" text-anchor="end" fill="#222" font-family="Liberation Sans, sans-serif">3</text><text x="299.9" y="307.50" font-size="6.3" text-anchor="end" fill="#222" font-family="Liberation Sans, sans-serif">6</text><text x="299.9" y="287.10" font-size="6.3" text-anchor="end" fill="#222" font-family="Liberation Sans, sans-serif">9</text><text x="299.9" y="266.70" font-size="6.3" text-anchor="end" fill="#222" font-family="Liberation Sans, sans-serif">12</text><text x="299.9" y="246.30" font-size="6.3" text-anchor="end" fill="#222" font-family="Liberation Sans, sans-serif">15</text><text x="299.9" y="225.90" font-size="6.3" text-anchor="end" fill="#222" font-family="Liberation Sans, sans-serif">18</text><text x="304.10" y="357" font-size="6.2" text-anchor="middle" fill="#222" font-family="Liberation Sans, sans-serif">0</text><text x="364.50" y="357" font-size="6.2" text-anchor="middle" fill="#222" font-family="Liberation Sans, sans-serif">12</text><text x="424.80" y="357" font-size="6.2" text-anchor="middle" fill="#222" font-family="Liberation Sans, sans-serif">24</text><text x="485.10" y="357" font-size="6.2" text-anchor="middle" fill="#222" font-family="Liberation Sans, sans-serif">48</text><text x="395.3" y="366" font-size="6.7" text-anchor="middle" fill="#222" font-family="Liberation Sans, sans-serif">Time (hour)</text><text transform="translate(289.6,279.2) rotate(-90)" font-size="6.7" text-anchor="middle" fill="#222" font-family="Liberation Sans, sans-serif">Tax mRNA relative expression (x1000)</text><polyline points="303.60,345.60 364.00,344.24 424.30,344.24 484.60,344.92" fill="none" stroke="#111" stroke-width="1.1" stroke-dasharray="1.4,2"/><polyline points="303.60,345.60 364.00,344.92 424.30,344.92 484.60,344.92" fill="none" stroke="#111" stroke-width="1.1" stroke-dasharray="1.4,2"/><polyline points="303.60,345.60 364.00,344.92 424.30,344.92 484.60,345.26" fill="none" stroke="#111" stroke-width="1.1" stroke-dasharray="1.4,2"/><polyline points="303.60,345.60 364.00,338.12 424.30,335.40 484.60,336.76" fill="none" stroke="#111" stroke-width="1.25"/><polyline points="303.60,345.60 364.00,343.56 424.30,342.20 484.60,344.24" fill="none" stroke="#111" stroke-width="1.25"/><polyline points="303.60,345.60 364.00,342.20 424.30,339.48 484.60,344.24" fill="none" stroke="#111" stroke-width="1.25"/><polyline points="303.60,345.60 364.00,316.02 424.30,342.54 484.60,344.58" fill="none" stroke="#111" stroke-width="1.25"/><polyline points="303.60,345.60 364.00,264.00 424.30,263.32 484.60,304.12" fill="none" stroke="#111" stroke-width="1.25"/><polyline points="303.60,345.60 364.00,287.80 424.30,244.28 484.60,336.76" fill="none" stroke="#111" stroke-width="1.25"/><circle cx="303.60" cy="345.60" r="1.50" fill="#fff" stroke="#111" stroke-width="0.9"/><circle cx="364.00" cy="344.24" r="1.50" fill="#fff" stroke="#111" stroke-width="0.9"/><circle cx="424.30" cy="344.24" r="1.50" fill="#fff" stroke="#111" stroke-width="0.9"/><circle cx="484.60" cy="344.92" r="1.50" fill="#fff" stroke="#111" stroke-width="0.9"/><path d="M303.60,343.80L305.40,347.04H301.80Z" fill="#222"/><path d="M364.00,343.12L365.80,346.36H362.20Z" fill="#222"/><path d="M424.30,343.12L426.10,346.36H422.50Z" fill="#222"/><path d="M484.60,343.12L486.40,346.36H482.80Z" fill="#222"/><rect x="302.05" y="344.05" width="3.10" height="3.10" fill="#fff" stroke="#111" stroke-width="0.9"/><rect x="362.45" y="343.37" width="3.10" height="3.10" fill="#fff" stroke="#111" stroke-width="0.9"/><rect x="422.75" y="343.37" width="3.10" height="3.10" fill="#fff" stroke="#111" stroke-width="0.9"/><rect x="483.05" y="343.71" width="3.10" height="3.10" fill="#fff" stroke="#111" stroke-width="0.9"/><circle cx="303.60" cy="345.60" r="1.50" fill="#fff" stroke="#111" stroke-width="0.9"/><circle cx="364.00" cy="338.12" r="1.50" fill="#fff" stroke="#111" stroke-width="0.9"/><circle cx="424.30" cy="335.40" r="1.50" fill="#fff" stroke="#111" stroke-width="0.9"/><circle cx="484.60" cy="336.76" r="1.50" fill="#fff" stroke="#111" stroke-width="0.9"/><path d="M303.60,343.80L305.40,347.04H301.80Z" fill="#222"/><path d="M364.00,341.76L365.80,345.00H362.20Z" fill="#222"/><path d="M424.30,340.40L426.10,343.64H422.50Z" fill="#222"/><path d="M484.60,342.44L486.40,345.68H482.80Z" fill="#222"/><rect x="302.05" y="344.05" width="3.10" height="3.10" fill="#fff" stroke="#111" stroke-width="0.9"/><rect x="362.45" y="340.65" width="3.10" height="3.10" fill="#fff" stroke="#111" stroke-width="0.9"/><rect x="422.75" y="337.93" width="3.10" height="3.10" fill="#fff" stroke="#111" stroke-width="0.9"/><rect x="483.05" y="342.69" width="3.10" height="3.10" fill="#fff" stroke="#111" stroke-width="0.9"/><circle cx="303.60" cy="345.60" r="1.90" fill="#111"/><circle cx="364.00" cy="316.02" r="1.90" fill="#111"/><circle cx="424.30" cy="342.54" r="1.90" fill="#111"/><circle cx="484.60" cy="344.58" r="1.90" fill="#111"/><path d="M303.60,343.40L305.80,347.36H301.40Z" fill="#111"/><path d="M364.00,261.80L366.20,265.76H361.80Z" fill="#111"/><path d="M424.30,261.12L426.50,265.08H422.10Z" fill="#111"/><path d="M484.60,301.92L486.80,305.88H482.40Z" fill="#111"/><rect x="301.50" y="343.50" width="4.20" height="4.20" fill="#111"/><rect x="361.90" y="285.70" width="4.20" height="4.20" fill="#111"/><rect x="422.20" y="242.18" width="4.20" height="4.20" fill="#111"/><rect x="482.50" y="334.66" width="4.20" height="4.20" fill="#111"/><line x1="462" y1="216.30" x2="482" y2="216.30" stroke="#222" stroke-width="1.1" stroke-dasharray="1.4,2"/><circle cx="471.70" cy="216.30" r="1.50" fill="#fff" stroke="#111" stroke-width="0.9"/><text x="482.7" y="219.50" font-size="6.35" fill="#222" font-family="Liberation Sans, sans-serif">ND#1</text><line x1="462" y1="224.35" x2="482" y2="224.35" stroke="#222" stroke-width="1.1" stroke-dasharray="1.4,2"/><path d="M471.70,222.55L473.50,225.79H469.90Z" fill="#222"/><text x="482.7" y="227.55" font-size="6.35" fill="#222" font-family="Liberation Sans, sans-serif">ND#2</text><line x1="462" y1="232.40" x2="482" y2="232.40" stroke="#222" stroke-width="1.1" stroke-dasharray="1.4,2"/><rect x="470.15" y="230.85" width="3.10" height="3.10" fill="#fff" stroke="#111" stroke-width="0.9"/><text x="482.7" y="235.60" font-size="6.35" fill="#222" font-family="Liberation Sans, sans-serif">ND#3</text><line x1="462" y1="240.45" x2="482" y2="240.45" stroke="#222" stroke-width="1.25"/><circle cx="471.70" cy="240.45" r="1.50" fill="#fff" stroke="#111" stroke-width="0.9"/><text x="482.7" y="243.65" font-size="6.35" fill="#222" font-family="Liberation Sans, sans-serif">AC#1</text><line x1="462" y1="248.50" x2="482" y2="248.50" stroke="#222" stroke-width="1.25"/><path d="M471.70,246.70L473.50,249.94H469.90Z" fill="#222"/><text x="482.7" y="251.70" font-size="6.35" fill="#222" font-family="Liberation Sans, sans-serif">AC#2</text><line x1="462" y1="256.55" x2="482" y2="256.55" stroke="#222" stroke-width="1.25"/><rect x="470.15" y="255.00" width="3.10" height="3.10" fill="#fff" stroke="#111" stroke-width="0.9"/><text x="482.7" y="259.75" font-size="6.35" fill="#222" font-family="Liberation Sans, sans-serif">AC#3</text><line x1="462" y1="264.60" x2="482" y2="264.60" stroke="#222" stroke-width="1.25"/><circle cx="471.70" cy="264.60" r="1.90" fill="#111"/><text x="482.7" y="267.80" font-size="6.35" fill="#222" font-family="Liberation Sans, sans-serif">HAM#1</text><line x1="462" y1="272.65" x2="482" y2="272.65" stroke="#222" stroke-width="1.25"/><path d="M471.70,270.45L473.90,274.41H469.50Z" fill="#111"/><text x="482.7" y="275.85" font-size="6.35" fill="#222" font-family="Liberation Sans, sans-serif">HAM#2</text><line x1="462" y1="280.70" x2="482" y2="280.70" stroke="#222" stroke-width="1.25"/><rect x="469.60" y="278.60" width="4.20" height="4.20" fill="#111"/><text x="482.7" y="283.90" font-size="6.35" fill="#222" font-family="Liberation Sans, sans-serif">HAM#3</text><text x="43.6" y="271.1" font-size="10.8" font-weight="bold" fill="#111" font-family="Liberation Sans, sans-serif">C</text><path d="M93.4,269.6V378.6H253" fill="none" stroke="#111" stroke-width="1.6"/><path d="M90.40,378.60h3M91.60,369.54h1.8M90.40,360.48h3M91.60,351.42h1.8M90.40,342.36h3M91.60,333.30h1.8M90.40,324.24h3M91.60,315.18h1.8M90.40,306.12h3M91.60,297.06h1.8M90.40,288.00h3M91.60,278.94h1.8M90.40,269.88h3M134,378.6v2M215.5,378.6v2" stroke="#111" stroke-width="1"/><text x="83.8" y="381.60" font-size="6.2" text-anchor="end" fill="#222" font-family="Liberation Sans, sans-serif">0</text><text x="83.8" y="363.48" font-size="6.2" text-anchor="end" fill="#222" font-family="Liberation Sans, sans-serif">.2</text><text x="83.8" y="345.36" font-size="6.2" text-anchor="end" fill="#222" font-family="Liberation Sans, sans-serif">.4</text><text x="83.8" y="327.24" font-size="6.2" text-anchor="end" fill="#222" font-family="Liberation Sans, sans-serif">.6</text><text x="83.8" y="309.12" font-size="6.2" text-anchor="end" fill="#222" font-family="Liberation Sans, sans-serif">.8</text><text x="83.8" y="291.00" font-size="6.2" text-anchor="end" fill="#222" font-family="Liberation Sans, sans-serif">1</text><text x="83.8" y="272.88" font-size="6.2" text-anchor="end" fill="#222" font-family="Liberation Sans, sans-serif">1.2</text><text transform="translate(68.6,318.2) rotate(-90)" font-size="6.6" text-anchor="middle" fill="#222" font-family="Liberation Sans, sans-serif">CD107<tspan font-size="4.2" dy="-2.2">+</tspan><tspan dy="2.2"> IFN-</tspan><tspan font-family="Liberation Serif, serif">γ</tspan><tspan font-size="4.2" dy="-2.2">+</tspan><tspan dy="2.2"> in CD8</tspan><tspan font-size="4.2" dy="-2.2">+</tspan><tspan dy="2.2"> T cells (%)</tspan></text><rect x="103.3" y="369.8" width="61.6" height="6.8" fill="#fff" stroke="#111" stroke-width="1.8"/><path d="M126,368.6H143.3M126,377.3H143.3" stroke="#111" stroke-width="1.8"/><rect x="185" y="308.1" width="61.2" height="37.9" fill="#fff" stroke="#111" stroke-width="1.8"/><path d="M185,332.8H246.2M215.5,308.1V286.9M215.5,346V357.7M207.5,286.9H224.6M207.5,357.7H224.6" stroke="#111" stroke-width="1.8"/><path d="M132.4,326V273H215.4V279" fill="none" stroke="#333" stroke-width="0.9"/><text x="169" y="267.8" font-size="8.2" fill="#222" font-family="Liberation Sans, sans-serif"><tspan font-style="italic">P</tspan> &lt; .05</text><text x="134" y="390.6" font-size="6.4" text-anchor="middle" fill="#222" font-family="Liberation Sans, sans-serif">AC</text><text x="215" y="390.6" font-size="6.4" text-anchor="middle" fill="#222" font-family="Liberation Sans, sans-serif">HAM</text></g></svg></body></html>
